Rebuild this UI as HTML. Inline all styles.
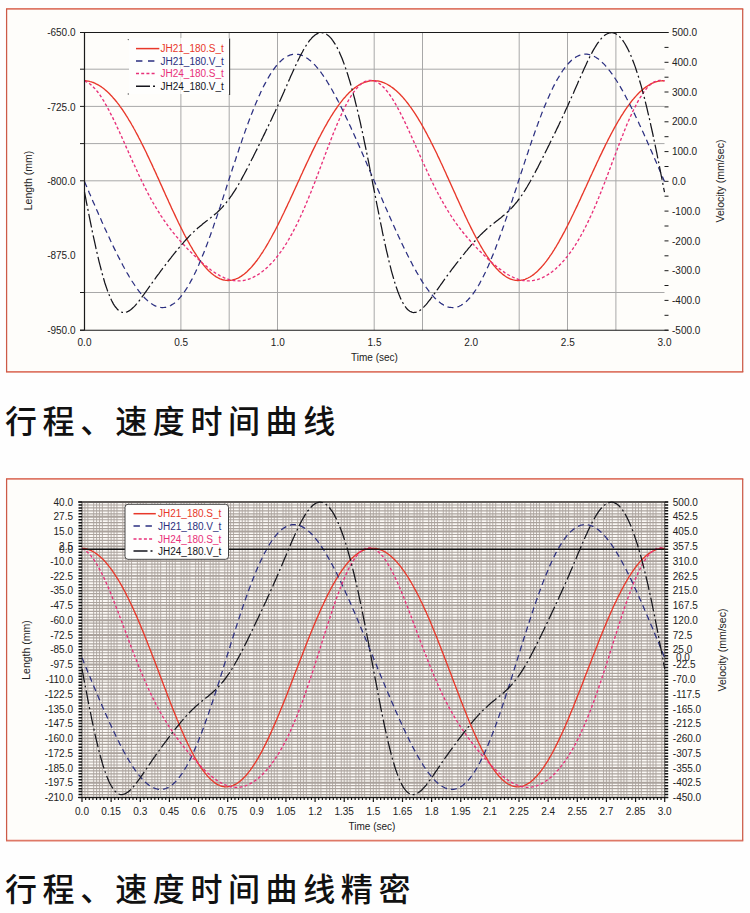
<!DOCTYPE html>
<html lang="zh-CN"><head><meta charset="utf-8"><title>行程、速度时间曲线</title>
<style>
html,body{margin:0;padding:0;background:#fefefe;}
body{width:750px;height:913px;position:relative;overflow:hidden;}
.cap{position:absolute;left:5px;margin:0;font-family:"Liberation Sans","Noto Sans CJK SC",sans-serif;font-weight:500;font-size:32px;line-height:40px;letter-spacing:5.6px;color:#111;white-space:nowrap;}
</style></head><body>
<svg width="750" height="913" viewBox="0 0 750 913" style="position:absolute;left:0;top:0">
<rect x="6.6" y="8.9" width="736.1" height="363.0" fill="#fefdfa"/>
<path d="M6.0 8.9H743.3000000000001M6.0 371.9H743.3000000000001" stroke="#de7867" stroke-width="1.7" fill="none"/>
<path d="M6.6 8.9V371.9M742.7 8.9V371.9" stroke="#cc5a47" stroke-width="1.25" fill="none"/>
<line x1="84.5" y1="69.2" x2="664.5" y2="69.2" stroke="#a8a8a8" stroke-width="1"/>
<line x1="84.5" y1="106.4" x2="664.5" y2="106.4" stroke="#a8a8a8" stroke-width="1"/>
<line x1="84.5" y1="143.6" x2="664.5" y2="143.6" stroke="#a8a8a8" stroke-width="1"/>
<line x1="84.5" y1="180.8" x2="664.5" y2="180.8" stroke="#a8a8a8" stroke-width="1"/>
<line x1="84.5" y1="292.5" x2="664.5" y2="292.5" stroke="#a8a8a8" stroke-width="1"/>
<line x1="180.9" y1="32.5" x2="180.9" y2="330.2" stroke="#a8a8a8" stroke-width="1"/>
<line x1="229.2" y1="32.5" x2="229.2" y2="330.2" stroke="#a8a8a8" stroke-width="1"/>
<line x1="277.5" y1="32.5" x2="277.5" y2="330.2" stroke="#a8a8a8" stroke-width="1"/>
<line x1="374.2" y1="32.5" x2="374.2" y2="330.2" stroke="#a8a8a8" stroke-width="1"/>
<line x1="422.5" y1="32.5" x2="422.5" y2="330.2" stroke="#a8a8a8" stroke-width="1"/>
<line x1="519.2" y1="32.5" x2="519.2" y2="330.2" stroke="#a8a8a8" stroke-width="1"/>
<line x1="567.5" y1="32.5" x2="567.5" y2="330.2" stroke="#a8a8a8" stroke-width="1"/>
<line x1="615.9" y1="32.5" x2="615.9" y2="330.2" stroke="#a8a8a8" stroke-width="1"/>
<path d="M84.5 80.7L85.5 80.7L86.4 80.8L87.4 81.0L88.4 81.1L89.3 81.3L90.3 81.6L91.3 81.8L92.2 82.2L93.2 82.5L94.2 82.9L95.2 83.3L96.1 83.8L97.1 84.3L98.1 84.8L99.0 85.4L100.0 86.0L101.0 86.6L101.9 87.3L102.9 88.0L103.9 88.8L104.8 89.5L105.8 90.4L106.8 91.2L107.7 92.1L108.7 93.0L109.7 94.0L110.6 95.0L111.6 96.0L112.6 97.1L113.5 98.2L114.5 99.3L115.5 100.5L116.5 101.7L117.4 102.9L118.4 104.1L119.4 105.4L120.3 106.8L121.3 108.1L122.3 109.5L123.2 110.9L124.2 112.4L125.2 113.9L126.1 115.4L127.1 116.9L128.1 118.5L129.0 120.1L130.0 121.7L131.0 123.3L131.9 125.0L132.9 126.7L133.9 128.5L134.9 130.2L135.8 132.0L136.8 133.8L137.8 135.6L138.7 137.5L139.7 139.4L140.7 141.2L141.6 143.2L142.6 145.1L143.6 147.1L144.5 149.0L145.5 151.0L146.5 153.0L147.4 155.1L148.4 157.1L149.4 159.2L150.3 161.2L151.3 163.3L152.3 165.4L153.2 167.5L154.2 169.6L155.2 171.7L156.2 173.9L157.1 176.0L158.1 178.1L159.1 180.3L160.0 182.4L161.0 184.6L162.0 186.7L162.9 188.9L163.9 191.1L164.9 193.2L165.8 195.4L166.8 197.5L167.8 199.6L168.7 201.8L169.7 203.9L170.7 206.0L171.6 208.1L172.6 210.2L173.6 212.3L174.6 214.4L175.5 216.4L176.5 218.5L177.5 220.5L178.4 222.5L179.4 224.5L180.4 226.5L181.3 228.4L182.3 230.3L183.3 232.2L184.2 234.1L185.2 236.0L186.2 237.8L187.1 239.6L188.1 241.4L189.1 243.1L190.0 244.8L191.0 246.5L192.0 248.2L192.9 249.8L193.9 251.4L194.9 252.9L195.9 254.4L196.8 255.9L197.8 257.3L198.8 258.7L199.7 260.1L200.7 261.4L201.7 262.7L202.6 263.9L203.6 265.1L204.6 266.3L205.5 267.4L206.5 268.5L207.5 269.5L208.4 270.5L209.4 271.4L210.4 272.3L211.3 273.2L212.3 274.0L213.3 274.8L214.2 275.5L215.2 276.1L216.2 276.8L217.2 277.3L218.1 277.9L219.1 278.3L220.1 278.8L221.0 279.1L222.0 279.5L223.0 279.8L223.9 280.0L224.9 280.2L225.9 280.3L226.8 280.4L227.8 280.5L228.8 280.5L229.7 280.4L230.7 280.3L231.7 280.2L232.6 280.0L233.6 279.7L234.6 279.4L235.6 279.1L236.5 278.7L237.5 278.3L238.5 277.8L239.4 277.3L240.4 276.7L241.4 276.1L242.3 275.4L243.3 274.7L244.3 274.0L245.2 273.2L246.2 272.4L247.2 271.5L248.1 270.6L249.1 269.6L250.1 268.6L251.0 267.6L252.0 266.5L253.0 265.3L253.9 264.2L254.9 263.0L255.9 261.7L256.9 260.5L257.8 259.1L258.8 257.8L259.8 256.4L260.7 255.0L261.7 253.5L262.7 252.1L263.6 250.5L264.6 249.0L265.6 247.4L266.5 245.8L267.5 244.1L268.5 242.5L269.4 240.8L270.4 239.0L271.4 237.3L272.3 235.5L273.3 233.7L274.3 231.9L275.3 230.0L276.2 228.2L277.2 226.3L278.2 224.4L279.1 222.4L280.1 220.5L281.1 218.5L282.0 216.5L283.0 214.5L284.0 212.5L284.9 210.5L285.9 208.4L286.9 206.4L287.8 204.3L288.8 202.3L289.8 200.2L290.7 198.1L291.7 196.0L292.7 193.9L293.6 191.8L294.6 189.7L295.6 187.5L296.6 185.4L297.5 183.3L298.5 181.2L299.5 179.1L300.4 177.0L301.4 174.8L302.4 172.7L303.3 170.6L304.3 168.5L305.3 166.4L306.2 164.4L307.2 162.3L308.2 160.2L309.1 158.2L310.1 156.1L311.1 154.1L312.0 152.1L313.0 150.1L314.0 148.1L315.0 146.1L315.9 144.2L316.9 142.2L317.9 140.3L318.8 138.4L319.8 136.6L320.8 134.7L321.7 132.9L322.7 131.1L323.7 129.3L324.6 127.5L325.6 125.8L326.6 124.1L327.5 122.4L328.5 120.7L329.5 119.1L330.4 117.5L331.4 115.9L332.4 114.4L333.3 112.8L334.3 111.4L335.3 109.9L336.3 108.5L337.2 107.1L338.2 105.7L339.2 104.4L340.1 103.1L341.1 101.9L342.1 100.6L343.0 99.4L344.0 98.3L345.0 97.2L345.9 96.1L346.9 95.0L347.9 94.0L348.8 93.0L349.8 92.1L350.8 91.2L351.7 90.3L352.7 89.5L353.7 88.7L354.7 87.9L355.6 87.2L356.6 86.5L357.6 85.9L358.5 85.3L359.5 84.7L360.5 84.2L361.4 83.7L362.4 83.2L363.4 82.8L364.3 82.4L365.3 82.1L366.3 81.8L367.2 81.5L368.2 81.3L369.2 81.1L370.1 80.9L371.1 80.8L372.1 80.7L373.0 80.7L374.0 80.7L375.0 80.7L376.0 80.8L376.9 80.9L377.9 81.0L378.9 81.2L379.8 81.4L380.8 81.7L381.8 82.0L382.7 82.3L383.7 82.7L384.7 83.1L385.6 83.5L386.6 84.0L387.6 84.5L388.5 85.1L389.5 85.7L390.5 86.3L391.4 87.0L392.4 87.6L393.4 88.4L394.3 89.1L395.3 89.9L396.3 90.8L397.3 91.7L398.2 92.6L399.2 93.5L400.2 94.5L401.1 95.5L402.1 96.5L403.1 97.6L404.0 98.7L405.0 99.9L406.0 101.1L406.9 102.3L407.9 103.5L408.9 104.8L409.8 106.1L410.8 107.4L411.8 108.8L412.7 110.2L413.7 111.6L414.7 113.1L415.7 114.6L416.6 116.1L417.6 117.7L418.6 119.3L419.5 120.9L420.5 122.5L421.5 124.2L422.4 125.9L423.4 127.6L424.4 129.3L425.3 131.1L426.3 132.9L427.3 134.7L428.2 136.6L429.2 138.4L430.2 140.3L431.1 142.2L432.1 144.1L433.1 146.1L434.0 148.0L435.0 150.0L436.0 152.0L437.0 154.0L437.9 156.1L438.9 158.1L439.9 160.2L440.8 162.3L441.8 164.3L442.8 166.4L443.7 168.6L444.7 170.7L445.7 172.8L446.6 174.9L447.6 177.1L448.6 179.2L449.5 181.4L450.5 183.5L451.5 185.7L452.4 187.8L453.4 190.0L454.4 192.1L455.4 194.3L456.3 196.4L457.3 198.6L458.3 200.7L459.2 202.8L460.2 205.0L461.2 207.1L462.1 209.2L463.1 211.3L464.1 213.3L465.0 215.4L466.0 217.5L467.0 219.5L467.9 221.5L468.9 223.5L469.9 225.5L470.8 227.4L471.8 229.4L472.8 231.3L473.7 233.2L474.7 235.0L475.7 236.9L476.7 238.7L477.6 240.5L478.6 242.2L479.6 244.0L480.5 245.7L481.5 247.3L482.5 249.0L483.4 250.6L484.4 252.1L485.4 253.7L486.3 255.2L487.3 256.6L488.3 258.0L489.2 259.4L490.2 260.8L491.2 262.1L492.1 263.3L493.1 264.5L494.1 265.7L495.1 266.9L496.0 268.0L497.0 269.0L498.0 270.0L498.9 271.0L499.9 271.9L500.9 272.8L501.8 273.6L502.8 274.4L503.8 275.1L504.7 275.8L505.7 276.5L506.7 277.1L507.6 277.6L508.6 278.1L509.6 278.6L510.5 279.0L511.5 279.3L512.5 279.6L513.4 279.9L514.4 280.1L515.4 280.3L516.4 280.4L517.3 280.5L518.3 280.5L519.3 280.4L520.2 280.4L521.2 280.2L522.2 280.1L523.1 279.9L524.1 279.6L525.1 279.3L526.0 278.9L527.0 278.5L528.0 278.0L528.9 277.5L529.9 277.0L530.9 276.4L531.8 275.8L532.8 275.1L533.8 274.4L534.8 273.6L535.7 272.8L536.7 271.9L537.7 271.0L538.6 270.1L539.6 269.1L540.6 268.1L541.5 267.0L542.5 265.9L543.5 264.8L544.4 263.6L545.4 262.4L546.4 261.1L547.3 259.8L548.3 258.5L549.3 257.1L550.2 255.7L551.2 254.3L552.2 252.8L553.1 251.3L554.1 249.8L555.1 248.2L556.1 246.6L557.0 245.0L558.0 243.3L559.0 241.6L559.9 239.9L560.9 238.2L561.9 236.4L562.8 234.6L563.8 232.8L564.8 231.0L565.7 229.1L566.7 227.2L567.7 225.3L568.6 223.4L569.6 221.5L570.6 219.5L571.5 217.5L572.5 215.5L573.5 213.5L574.4 211.5L575.4 209.5L576.4 207.4L577.4 205.4L578.3 203.3L579.3 201.2L580.3 199.1L581.2 197.0L582.2 194.9L583.2 192.8L584.1 190.7L585.1 188.6L586.1 186.5L587.0 184.4L588.0 182.2L589.0 180.1L589.9 178.0L590.9 175.9L591.9 173.8L592.8 171.7L593.8 169.6L594.8 167.5L595.8 165.4L596.7 163.3L597.7 161.2L598.7 159.2L599.6 157.1L600.6 155.1L601.6 153.1L602.5 151.1L603.5 149.1L604.5 147.1L605.4 145.1L606.4 143.2L607.4 141.3L608.3 139.4L609.3 137.5L610.3 135.6L611.2 133.8L612.2 132.0L613.2 130.2L614.1 128.4L615.1 126.6L616.1 124.9L617.1 123.2L618.0 121.5L619.0 119.9L620.0 118.3L620.9 116.7L621.9 115.1L622.9 113.6L623.8 112.1L624.8 110.6L625.8 109.2L626.7 107.8L627.7 106.4L628.7 105.1L629.6 103.8L630.6 102.5L631.6 101.2L632.5 100.0L633.5 98.9L634.5 97.7L635.5 96.6L636.4 95.6L637.4 94.5L638.4 93.5L639.3 92.6L640.3 91.6L641.3 90.8L642.2 89.9L643.2 89.1L644.2 88.3L645.1 87.6L646.1 86.9L647.1 86.2L648.0 85.6L649.0 85.0L650.0 84.4L650.9 83.9L651.9 83.4L652.9 83.0L653.8 82.6L654.8 82.2L655.8 81.9L656.8 81.6L657.7 81.4L658.7 81.2L659.7 81.0L660.6 80.9L661.6 80.8L662.6 80.7L663.5 80.7L664.5 80.7" fill="none" stroke="#e8382a" stroke-width="1.35"/>
<path d="M84.5 181.6L85.5 183.9L86.4 186.1L87.4 188.4L88.4 190.6L89.3 192.9L90.3 195.1L91.3 197.4L92.2 199.6L93.2 201.9L94.2 204.1L95.2 206.3L96.1 208.5L97.1 210.8L98.1 213.0L99.0 215.2L100.0 217.4L101.0 219.5L101.9 221.7L102.9 223.9L103.9 226.0L104.8 228.2L105.8 230.3L106.8 232.4L107.7 234.5L108.7 236.6L109.7 238.7L110.6 240.8L111.6 242.8L112.6 244.9L113.5 246.9L114.5 248.9L115.5 250.9L116.5 252.8L117.4 254.8L118.4 256.7L119.4 258.6L120.3 260.5L121.3 262.4L122.3 264.2L123.2 266.0L124.2 267.8L125.2 269.5L126.1 271.3L127.1 273.0L128.1 274.6L129.0 276.3L130.0 277.9L131.0 279.5L131.9 281.0L132.9 282.5L133.9 284.0L134.9 285.5L135.8 286.9L136.8 288.2L137.8 289.6L138.7 290.9L139.7 292.1L140.7 293.3L141.6 294.5L142.6 295.6L143.6 296.7L144.5 297.7L145.5 298.7L146.5 299.6L147.4 300.5L148.4 301.4L149.4 302.2L150.3 302.9L151.3 303.6L152.3 304.2L153.2 304.8L154.2 305.4L155.2 305.8L156.2 306.3L157.1 306.6L158.1 306.9L159.1 307.2L160.0 307.4L161.0 307.5L162.0 307.6L162.9 307.6L163.9 307.5L164.9 307.4L165.8 307.3L166.8 307.0L167.8 306.7L168.7 306.4L169.7 306.0L170.7 305.5L171.6 304.9L172.6 304.3L173.6 303.7L174.6 302.9L175.5 302.1L176.5 301.3L177.5 300.3L178.4 299.4L179.4 298.3L180.4 297.2L181.3 296.0L182.3 294.8L183.3 293.5L184.2 292.1L185.2 290.7L186.2 289.2L187.1 287.7L188.1 286.1L189.1 284.4L190.0 282.7L191.0 280.9L192.0 279.1L192.9 277.2L193.9 275.3L194.9 273.3L195.9 271.3L196.8 269.2L197.8 267.0L198.8 264.8L199.7 262.6L200.7 260.3L201.7 258.0L202.6 255.6L203.6 253.2L204.6 250.7L205.5 248.2L206.5 245.7L207.5 243.1L208.4 240.5L209.4 237.8L210.4 235.2L211.3 232.5L212.3 229.7L213.3 226.9L214.2 224.1L215.2 221.3L216.2 218.5L217.2 215.6L218.1 212.7L219.1 209.8L220.1 206.9L221.0 204.0L222.0 201.0L223.0 198.1L223.9 195.1L224.9 192.1L225.9 189.2L226.8 186.2L227.8 183.2L228.8 180.2L229.7 177.2L230.7 174.2L231.7 171.3L232.6 168.3L233.6 165.3L234.6 162.4L235.6 159.5L236.5 156.5L237.5 153.6L238.5 150.7L239.4 147.8L240.4 145.0L241.4 142.2L242.3 139.4L243.3 136.6L244.3 133.8L245.2 131.1L246.2 128.4L247.2 125.7L248.1 123.1L249.1 120.5L250.1 117.9L251.0 115.4L252.0 112.9L253.0 110.4L253.9 108.0L254.9 105.6L255.9 103.3L256.9 101.0L257.8 98.8L258.8 96.6L259.8 94.4L260.7 92.3L261.7 90.3L262.7 88.3L263.6 86.3L264.6 84.4L265.6 82.6L266.5 80.8L267.5 79.1L268.5 77.4L269.4 75.8L270.4 74.2L271.4 72.7L272.3 71.2L273.3 69.8L274.3 68.5L275.3 67.2L276.2 66.0L277.2 64.8L278.2 63.7L279.1 62.7L280.1 61.7L281.1 60.8L282.0 59.9L283.0 59.1L284.0 58.4L284.9 57.7L285.9 57.1L286.9 56.5L287.8 56.0L288.8 55.6L289.8 55.2L290.7 54.9L291.7 54.6L292.7 54.4L293.6 54.3L294.6 54.2L295.6 54.2L296.6 54.2L297.5 54.3L298.5 54.4L299.5 54.6L300.4 54.9L301.4 55.2L302.4 55.6L303.3 56.0L304.3 56.5L305.3 57.0L306.2 57.6L307.2 58.3L308.2 58.9L309.1 59.7L310.1 60.5L311.1 61.3L312.0 62.2L313.0 63.1L314.0 64.1L315.0 65.1L315.9 66.2L316.9 67.3L317.9 68.5L318.8 69.7L319.8 70.9L320.8 72.2L321.7 73.5L322.7 74.9L323.7 76.3L324.6 77.7L325.6 79.2L326.6 80.7L327.5 82.3L328.5 83.9L329.5 85.5L330.4 87.1L331.4 88.8L332.4 90.5L333.3 92.2L334.3 94.0L335.3 95.8L336.3 97.6L337.2 99.4L338.2 101.3L339.2 103.1L340.1 105.1L341.1 107.0L342.1 108.9L343.0 110.9L344.0 112.9L345.0 114.9L345.9 116.9L346.9 119.0L347.9 121.0L348.8 123.1L349.8 125.2L350.8 127.3L351.7 129.4L352.7 131.6L353.7 133.7L354.7 135.9L355.6 138.0L356.6 140.2L357.6 142.4L358.5 144.6L359.5 146.8L360.5 149.0L361.4 151.2L362.4 153.5L363.4 155.7L364.3 157.9L365.3 160.2L366.3 162.4L367.2 164.7L368.2 166.9L369.2 169.2L370.1 171.4L371.1 173.7L372.1 175.9L373.0 178.2L374.0 180.5L375.0 182.7L376.0 185.0L376.9 187.2L377.9 189.5L378.9 191.8L379.8 194.0L380.8 196.3L381.8 198.5L382.7 200.7L383.7 203.0L384.7 205.2L385.6 207.4L386.6 209.6L387.6 211.9L388.5 214.1L389.5 216.3L390.5 218.4L391.4 220.6L392.4 222.8L393.4 225.0L394.3 227.1L395.3 229.3L396.3 231.4L397.3 233.5L398.2 235.6L399.2 237.7L400.2 239.8L401.1 241.8L402.1 243.9L403.1 245.9L404.0 247.9L405.0 249.9L406.0 251.9L406.9 253.8L407.9 255.8L408.9 257.7L409.8 259.6L410.8 261.4L411.8 263.3L412.7 265.1L413.7 266.9L414.7 268.7L415.7 270.4L416.6 272.1L417.6 273.8L418.6 275.5L419.5 277.1L420.5 278.7L421.5 280.3L422.4 281.8L423.4 283.3L424.4 284.7L425.3 286.2L426.3 287.6L427.3 288.9L428.2 290.2L429.2 291.5L430.2 292.7L431.1 293.9L432.1 295.0L433.1 296.1L434.0 297.2L435.0 298.2L436.0 299.2L437.0 300.1L437.9 301.0L438.9 301.8L439.9 302.5L440.8 303.3L441.8 303.9L442.8 304.5L443.7 305.1L444.7 305.6L445.7 306.0L446.6 306.4L447.6 306.8L448.6 307.1L449.5 307.3L450.5 307.4L451.5 307.5L452.4 307.6L453.4 307.6L454.4 307.5L455.4 307.4L456.3 307.2L457.3 306.9L458.3 306.6L459.2 306.2L460.2 305.7L461.2 305.2L462.1 304.6L463.1 304.0L464.1 303.3L465.0 302.5L466.0 301.7L467.0 300.8L467.9 299.9L468.9 298.8L469.9 297.8L470.8 296.6L471.8 295.4L472.8 294.1L473.7 292.8L474.7 291.4L475.7 290.0L476.7 288.5L477.6 286.9L478.6 285.3L479.6 283.6L480.5 281.8L481.5 280.0L482.5 278.2L483.4 276.3L484.4 274.3L485.4 272.3L486.3 270.2L487.3 268.1L488.3 265.9L489.2 263.7L490.2 261.5L491.2 259.1L492.1 256.8L493.1 254.4L494.1 252.0L495.1 249.5L496.0 247.0L497.0 244.4L498.0 241.8L498.9 239.2L499.9 236.5L500.9 233.8L501.8 231.1L502.8 228.3L503.8 225.5L504.7 222.7L505.7 219.9L506.7 217.1L507.6 214.2L508.6 211.3L509.6 208.4L510.5 205.5L511.5 202.5L512.5 199.6L513.4 196.6L514.4 193.6L515.4 190.7L516.4 187.7L517.3 184.7L518.3 181.7L519.3 178.7L520.2 175.7L521.2 172.8L522.2 169.8L523.1 166.8L524.1 163.9L525.1 160.9L526.0 158.0L527.0 155.1L528.0 152.2L528.9 149.3L529.9 146.4L530.9 143.6L531.8 140.8L532.8 138.0L533.8 135.2L534.8 132.4L535.7 129.7L536.7 127.0L537.7 124.4L538.6 121.8L539.6 119.2L540.6 116.6L541.5 114.1L542.5 111.6L543.5 109.2L544.4 106.8L545.4 104.5L546.4 102.2L547.3 99.9L548.3 97.7L549.3 95.5L550.2 93.4L551.2 91.3L552.2 89.3L553.1 87.3L554.1 85.4L555.1 83.5L556.1 81.7L557.0 79.9L558.0 78.2L559.0 76.6L559.9 75.0L560.9 73.4L561.9 71.9L562.8 70.5L563.8 69.1L564.8 67.8L565.7 66.6L566.7 65.4L567.7 64.3L568.6 63.2L569.6 62.2L570.6 61.2L571.5 60.3L572.5 59.5L573.5 58.7L574.4 58.0L575.4 57.4L576.4 56.8L577.4 56.2L578.3 55.8L579.3 55.4L580.3 55.0L581.2 54.7L582.2 54.5L583.2 54.3L584.1 54.2L585.1 54.2L586.1 54.2L587.0 54.2L588.0 54.3L589.0 54.5L589.9 54.8L590.9 55.0L591.9 55.4L592.8 55.8L593.8 56.2L594.8 56.8L595.8 57.3L596.7 57.9L597.7 58.6L598.7 59.3L599.6 60.1L600.6 60.9L601.6 61.8L602.5 62.7L603.5 63.6L604.5 64.6L605.4 65.7L606.4 66.8L607.4 67.9L608.3 69.1L609.3 70.3L610.3 71.6L611.2 72.9L612.2 74.2L613.2 75.6L614.1 77.0L615.1 78.5L616.1 80.0L617.1 81.5L618.0 83.1L619.0 84.7L620.0 86.3L620.9 87.9L621.9 89.6L622.9 91.3L623.8 93.1L624.8 94.9L625.8 96.7L626.7 98.5L627.7 100.3L628.7 102.2L629.6 104.1L630.6 106.0L631.6 108.0L632.5 109.9L633.5 111.9L634.5 113.9L635.5 115.9L636.4 118.0L637.4 120.0L638.4 122.1L639.3 124.2L640.3 126.3L641.3 128.4L642.2 130.5L643.2 132.6L644.2 134.8L645.1 137.0L646.1 139.1L647.1 141.3L648.0 143.5L649.0 145.7L650.0 147.9L650.9 150.1L651.9 152.3L652.9 154.6L653.8 156.8L654.8 159.0L655.8 161.3L656.8 163.5L657.7 165.8L658.7 168.0L659.7 170.3L660.6 172.6L661.6 174.8L662.6 177.1L663.5 179.3L664.5 181.6" fill="none" stroke="#2b2f80" stroke-width="1.25" stroke-dasharray="6 4"/>
<path d="M84.5 81.0L85.5 81.3L86.4 81.8L87.4 82.3L88.4 82.9L89.3 83.5L90.3 84.3L91.3 85.1L92.2 85.9L93.2 86.9L94.2 87.9L95.2 88.9L96.1 90.1L97.1 91.3L98.1 92.5L99.0 93.8L100.0 95.2L101.0 96.6L101.9 98.1L102.9 99.7L103.9 101.2L104.8 102.9L105.8 104.6L106.8 106.3L107.7 108.0L108.7 109.8L109.7 111.7L110.6 113.6L111.6 115.5L112.6 117.4L113.5 119.4L114.5 121.4L115.5 123.4L116.5 125.5L117.4 127.6L118.4 129.7L119.4 131.8L120.3 133.9L121.3 136.0L122.3 138.2L123.2 140.4L124.2 142.5L125.2 144.7L126.1 146.9L127.1 149.1L128.1 151.2L129.0 153.4L130.0 155.6L131.0 157.7L131.9 159.9L132.9 162.1L133.9 164.2L134.9 166.3L135.8 168.4L136.8 170.5L137.8 172.6L138.7 174.7L139.7 176.8L140.7 178.8L141.6 180.8L142.6 182.8L143.6 184.7L144.5 186.7L145.5 188.6L146.5 190.5L147.4 192.4L148.4 194.2L149.4 196.0L150.3 197.8L151.3 199.6L152.3 201.3L153.2 203.0L154.2 204.7L155.2 206.4L156.2 208.0L157.1 209.6L158.1 211.2L159.1 212.7L160.0 214.3L161.0 215.8L162.0 217.2L162.9 218.7L163.9 220.1L164.9 221.5L165.8 222.9L166.8 224.2L167.8 225.6L168.7 226.9L169.7 228.1L170.7 229.4L171.6 230.7L172.6 231.9L173.6 233.1L174.6 234.3L175.5 235.4L176.5 236.6L177.5 237.7L178.4 238.9L179.4 240.0L180.4 241.1L181.3 242.2L182.3 243.2L183.3 244.3L184.2 245.3L185.2 246.4L186.2 247.4L187.1 248.4L188.1 249.4L189.1 250.4L190.0 251.4L191.0 252.3L192.0 253.3L192.9 254.2L193.9 255.2L194.9 256.1L195.9 257.0L196.8 257.9L197.8 258.8L198.8 259.7L199.7 260.6L200.7 261.5L201.7 262.3L202.6 263.2L203.6 264.0L204.6 264.8L205.5 265.6L206.5 266.4L207.5 267.2L208.4 268.0L209.4 268.7L210.4 269.5L211.3 270.2L212.3 270.9L213.3 271.6L214.2 272.2L215.2 272.9L216.2 273.5L217.2 274.1L218.1 274.7L219.1 275.2L220.1 275.8L221.0 276.3L222.0 276.8L223.0 277.2L223.9 277.7L224.9 278.1L225.9 278.5L226.8 278.8L227.8 279.1L228.8 279.5L229.7 279.7L230.7 280.0L231.7 280.2L232.6 280.4L233.6 280.5L234.6 280.7L235.6 280.8L236.5 280.8L237.5 280.9L238.5 280.9L239.4 280.9L240.4 280.8L241.4 280.7L242.3 280.6L243.3 280.5L244.3 280.3L245.2 280.1L246.2 279.9L247.2 279.6L248.1 279.3L249.1 279.0L250.1 278.6L251.0 278.2L252.0 277.8L253.0 277.4L253.9 276.9L254.9 276.4L255.9 275.9L256.9 275.3L257.8 274.7L258.8 274.1L259.8 273.4L260.7 272.8L261.7 272.0L262.7 271.3L263.6 270.5L264.6 269.7L265.6 268.9L266.5 268.0L267.5 267.2L268.5 266.2L269.4 265.3L270.4 264.3L271.4 263.3L272.3 262.2L273.3 261.2L274.3 260.1L275.3 258.9L276.2 257.7L277.2 256.5L278.2 255.3L279.1 254.0L280.1 252.7L281.1 251.4L282.0 250.0L283.0 248.6L284.0 247.1L284.9 245.6L285.9 244.1L286.9 242.5L287.8 240.9L288.8 239.3L289.8 237.6L290.7 235.9L291.7 234.2L292.7 232.4L293.6 230.6L294.6 228.7L295.6 226.8L296.6 224.9L297.5 222.9L298.5 220.9L299.5 218.8L300.4 216.7L301.4 214.6L302.4 212.5L303.3 210.3L304.3 208.1L305.3 205.8L306.2 203.5L307.2 201.2L308.2 198.9L309.1 196.5L310.1 194.1L311.1 191.7L312.0 189.2L313.0 186.8L314.0 184.3L315.0 181.8L315.9 179.3L316.9 176.7L317.9 174.2L318.8 171.6L319.8 169.0L320.8 166.5L321.7 163.9L322.7 161.3L323.7 158.7L324.6 156.1L325.6 153.6L326.6 151.0L327.5 148.4L328.5 145.9L329.5 143.4L330.4 140.9L331.4 138.4L332.4 135.9L333.3 133.5L334.3 131.0L335.3 128.7L336.3 126.3L337.2 124.0L338.2 121.7L339.2 119.5L340.1 117.3L341.1 115.1L342.1 113.0L343.0 111.0L344.0 109.0L345.0 107.0L345.9 105.1L346.9 103.3L347.9 101.5L348.8 99.8L349.8 98.1L350.8 96.5L351.7 95.0L352.7 93.6L353.7 92.2L354.7 90.9L355.6 89.7L356.6 88.5L357.6 87.4L358.5 86.4L359.5 85.4L360.5 84.6L361.4 83.8L362.4 83.1L363.4 82.5L364.3 81.9L365.3 81.5L366.3 81.1L367.2 80.8L368.2 80.5L369.2 80.4L370.1 80.3L371.1 80.3L372.1 80.4L373.0 80.6L374.0 80.8L375.0 81.2L376.0 81.5L376.9 82.0L377.9 82.6L378.9 83.2L379.8 83.9L380.8 84.6L381.8 85.5L382.7 86.4L383.7 87.4L384.7 88.4L385.6 89.5L386.6 90.7L387.6 91.9L388.5 93.2L389.5 94.5L390.5 95.9L391.4 97.4L392.4 98.9L393.4 100.4L394.3 102.0L395.3 103.7L396.3 105.4L397.3 107.2L398.2 108.9L399.2 110.8L400.2 112.6L401.1 114.5L402.1 116.5L403.1 118.4L404.0 120.4L405.0 122.4L406.0 124.5L406.9 126.5L407.9 128.6L408.9 130.7L409.8 132.8L410.8 135.0L411.8 137.1L412.7 139.3L413.7 141.4L414.7 143.6L415.7 145.8L416.6 148.0L417.6 150.1L418.6 152.3L419.5 154.5L420.5 156.7L421.5 158.8L422.4 161.0L423.4 163.1L424.4 165.3L425.3 167.4L426.3 169.5L427.3 171.6L428.2 173.7L429.2 175.7L430.2 177.8L431.1 179.8L432.1 181.8L433.1 183.8L434.0 185.7L435.0 187.7L436.0 189.6L437.0 191.4L437.9 193.3L438.9 195.1L439.9 196.9L440.8 198.7L441.8 200.5L442.8 202.2L443.7 203.9L444.7 205.6L445.7 207.2L446.6 208.8L447.6 210.4L448.6 212.0L449.5 213.5L450.5 215.0L451.5 216.5L452.4 218.0L453.4 219.4L454.4 220.8L455.4 222.2L456.3 223.6L457.3 224.9L458.3 226.2L459.2 227.5L460.2 228.8L461.2 230.0L462.1 231.3L463.1 232.5L464.1 233.7L465.0 234.9L466.0 236.0L467.0 237.2L467.9 238.3L468.9 239.4L469.9 240.5L470.8 241.6L471.8 242.7L472.8 243.8L473.7 244.8L474.7 245.8L475.7 246.9L476.7 247.9L477.6 248.9L478.6 249.9L479.6 250.9L480.5 251.8L481.5 252.8L482.5 253.8L483.4 254.7L484.4 255.6L485.4 256.6L486.3 257.5L487.3 258.4L488.3 259.3L489.2 260.2L490.2 261.1L491.2 261.9L492.1 262.8L493.1 263.6L494.1 264.4L495.1 265.2L496.0 266.0L497.0 266.8L498.0 267.6L498.9 268.4L499.9 269.1L500.9 269.8L501.8 270.5L502.8 271.2L503.8 271.9L504.7 272.6L505.7 273.2L506.7 273.8L507.6 274.4L508.6 275.0L509.6 275.5L510.5 276.0L511.5 276.5L512.5 277.0L513.4 277.4L514.4 277.9L515.4 278.3L516.4 278.6L517.3 279.0L518.3 279.3L519.3 279.6L520.2 279.9L521.2 280.1L522.2 280.3L523.1 280.5L524.1 280.6L525.1 280.7L526.0 280.8L527.0 280.9L528.0 280.9L528.9 280.9L529.9 280.8L530.9 280.8L531.8 280.7L532.8 280.6L533.8 280.4L534.8 280.2L535.7 280.0L536.7 279.7L537.7 279.5L538.6 279.1L539.6 278.8L540.6 278.4L541.5 278.0L542.5 277.6L543.5 277.1L544.4 276.7L545.4 276.1L546.4 275.6L547.3 275.0L548.3 274.4L549.3 273.8L550.2 273.1L551.2 272.4L552.2 271.7L553.1 270.9L554.1 270.1L555.1 269.3L556.1 268.5L557.0 267.6L558.0 266.7L559.0 265.8L559.9 264.8L560.9 263.8L561.9 262.8L562.8 261.7L563.8 260.6L564.8 259.5L565.7 258.3L566.7 257.1L567.7 255.9L568.6 254.7L569.6 253.4L570.6 252.0L571.5 250.7L572.5 249.3L573.5 247.8L574.4 246.4L575.4 244.9L576.4 243.3L577.4 241.7L578.3 240.1L579.3 238.5L580.3 236.8L581.2 235.0L582.2 233.3L583.2 231.5L584.1 229.6L585.1 227.8L586.1 225.8L587.0 223.9L588.0 221.9L589.0 219.9L589.9 217.8L590.9 215.7L591.9 213.6L592.8 211.4L593.8 209.2L594.8 206.9L595.8 204.7L596.7 202.4L597.7 200.1L598.7 197.7L599.6 195.3L600.6 192.9L601.6 190.5L602.5 188.0L603.5 185.5L604.5 183.0L605.4 180.5L606.4 178.0L607.4 175.5L608.3 172.9L609.3 170.3L610.3 167.8L611.2 165.2L612.2 162.6L613.2 160.0L614.1 157.4L615.1 154.9L616.1 152.3L617.1 149.7L618.0 147.2L619.0 144.6L620.0 142.1L620.9 139.6L621.9 137.1L622.9 134.7L623.8 132.2L624.8 129.8L625.8 127.5L626.7 125.1L627.7 122.8L628.7 120.6L629.6 118.4L630.6 116.2L631.6 114.1L632.5 112.0L633.5 109.9L634.5 108.0L635.5 106.1L636.4 104.2L637.4 102.4L638.4 100.6L639.3 99.0L640.3 97.3L641.3 95.8L642.2 94.3L643.2 92.9L644.2 91.5L645.1 90.3L646.1 89.1L647.1 87.9L648.0 86.9L649.0 85.9L650.0 85.0L650.9 84.2L651.9 83.4L652.9 82.8L653.8 82.2L654.8 81.7L655.8 81.3L656.8 80.9L657.7 80.6L658.7 80.5L659.7 80.3L660.6 80.3L661.6 80.4L662.6 80.5L663.5 80.7L664.5 81.0" fill="none" stroke="#e8307a" stroke-width="1.35" stroke-dasharray="3 2.2"/>
<path d="M84.5 192.2L85.5 197.1L86.4 202.1L87.4 207.0L88.4 211.9L89.3 216.7L90.3 221.5L91.3 226.3L92.2 231.0L93.2 235.6L94.2 240.1L95.2 244.6L96.1 248.9L97.1 253.2L98.1 257.3L99.0 261.3L100.0 265.2L101.0 269.0L101.9 272.6L102.9 276.1L103.9 279.5L104.8 282.7L105.8 285.7L106.8 288.6L107.7 291.3L108.7 293.8L109.7 296.2L110.6 298.4L111.6 300.5L112.6 302.4L113.5 304.1L114.5 305.6L115.5 307.0L116.5 308.2L117.4 309.3L118.4 310.2L119.4 310.9L120.3 311.5L121.3 312.0L122.3 312.3L123.2 312.4L124.2 312.5L125.2 312.4L126.1 312.1L127.1 311.8L128.1 311.4L129.0 310.9L130.0 310.2L131.0 309.5L131.9 308.7L132.9 307.8L133.9 306.9L134.9 305.9L135.8 304.8L136.8 303.7L137.8 302.5L138.7 301.3L139.7 300.1L140.7 298.8L141.6 297.5L142.6 296.2L143.6 294.9L144.5 293.5L145.5 292.2L146.5 290.8L147.4 289.5L148.4 288.1L149.4 286.7L150.3 285.3L151.3 284.0L152.3 282.6L153.2 281.3L154.2 279.9L155.2 278.6L156.2 277.2L157.1 275.9L158.1 274.6L159.1 273.3L160.0 272.0L161.0 270.7L162.0 269.4L162.9 268.1L163.9 266.8L164.9 265.6L165.8 264.3L166.8 263.1L167.8 261.8L168.7 260.6L169.7 259.3L170.7 258.1L171.6 256.9L172.6 255.7L173.6 254.4L174.6 253.2L175.5 252.0L176.5 250.8L177.5 249.7L178.4 248.5L179.4 247.3L180.4 246.2L181.3 245.0L182.3 243.9L183.3 242.8L184.2 241.7L185.2 240.6L186.2 239.5L187.1 238.5L188.1 237.5L189.1 236.4L190.0 235.4L191.0 234.5L192.0 233.5L192.9 232.6L193.9 231.6L194.9 230.7L195.9 229.9L196.8 229.0L197.8 228.1L198.8 227.3L199.7 226.5L200.7 225.7L201.7 224.9L202.6 224.1L203.6 223.3L204.6 222.6L205.5 221.8L206.5 221.1L207.5 220.3L208.4 219.6L209.4 218.8L210.4 218.1L211.3 217.3L212.3 216.5L213.3 215.7L214.2 214.9L215.2 214.1L216.2 213.2L217.2 212.4L218.1 211.5L219.1 210.5L220.1 209.6L221.0 208.6L222.0 207.6L223.0 206.5L223.9 205.4L224.9 204.3L225.9 203.1L226.8 201.9L227.8 200.7L228.8 199.4L229.7 198.1L230.7 196.7L231.7 195.3L232.6 193.9L233.6 192.4L234.6 190.9L235.6 189.3L236.5 187.8L237.5 186.1L238.5 184.5L239.4 182.8L240.4 181.1L241.4 179.4L242.3 177.6L243.3 175.8L244.3 174.0L245.2 172.2L246.2 170.4L247.2 168.5L248.1 166.6L249.1 164.8L250.1 162.9L251.0 160.9L252.0 159.0L253.0 157.1L253.9 155.2L254.9 153.2L255.9 151.3L256.9 149.4L257.8 147.4L258.8 145.4L259.8 143.5L260.7 141.5L261.7 139.5L262.7 137.6L263.6 135.6L264.6 133.6L265.6 131.6L266.5 129.6L267.5 127.6L268.5 125.6L269.4 123.6L270.4 121.5L271.4 119.5L272.3 117.4L273.3 115.3L274.3 113.3L275.3 111.2L276.2 109.1L277.2 106.9L278.2 104.8L279.1 102.7L280.1 100.5L281.1 98.3L282.0 96.2L283.0 94.0L284.0 91.8L284.9 89.6L285.9 87.4L286.9 85.2L287.8 82.9L288.8 80.7L289.8 78.5L290.7 76.3L291.7 74.2L292.7 72.0L293.6 69.9L294.6 67.7L295.6 65.6L296.6 63.6L297.5 61.5L298.5 59.5L299.5 57.6L300.4 55.6L301.4 53.8L302.4 52.0L303.3 50.2L304.3 48.5L305.3 46.9L306.2 45.4L307.2 43.9L308.2 42.5L309.1 41.2L310.1 39.9L311.1 38.8L312.0 37.7L313.0 36.8L314.0 35.9L315.0 35.1L315.9 34.5L316.9 33.9L317.9 33.4L318.8 33.1L319.8 32.9L320.8 32.7L321.7 32.7L322.7 32.8L323.7 33.0L324.6 33.3L325.6 33.7L326.6 34.3L327.5 35.0L328.5 35.7L329.5 36.6L330.4 37.6L331.4 38.7L332.4 40.0L333.3 41.3L334.3 42.8L335.3 44.4L336.3 46.0L337.2 47.8L338.2 49.8L339.2 51.8L340.1 53.9L341.1 56.2L342.1 58.5L343.0 61.0L344.0 63.6L345.0 66.3L345.9 69.1L346.9 72.0L347.9 75.0L348.8 78.1L349.8 81.3L350.8 84.7L351.7 88.1L352.7 91.6L353.7 95.3L354.7 99.0L355.6 102.8L356.6 106.8L357.6 110.8L358.5 114.9L359.5 119.1L360.5 123.4L361.4 127.8L362.4 132.2L363.4 136.7L364.3 141.3L365.3 146.0L366.3 150.7L367.2 155.4L368.2 160.2L369.2 165.1L370.1 170.0L371.1 174.9L372.1 179.8L373.0 184.8L374.0 189.7L375.0 194.7L376.0 199.6L376.9 204.5L377.9 209.4L378.9 214.3L379.8 219.1L380.8 223.9L381.8 228.6L382.7 233.3L383.7 237.9L384.7 242.3L385.6 246.7L386.6 251.1L387.6 255.2L388.5 259.3L389.5 263.3L390.5 267.1L391.4 270.8L392.4 274.4L393.4 277.8L394.3 281.1L395.3 284.2L396.3 287.2L397.3 290.0L398.2 292.6L399.2 295.1L400.2 297.4L401.1 299.5L402.1 301.5L403.1 303.3L404.0 304.9L405.0 306.3L406.0 307.6L406.9 308.8L407.9 309.7L408.9 310.6L409.8 311.2L410.8 311.7L411.8 312.1L412.7 312.4L413.7 312.5L414.7 312.4L415.7 312.3L416.6 312.0L417.6 311.6L418.6 311.1L419.5 310.6L420.5 309.9L421.5 309.1L422.4 308.3L423.4 307.4L424.4 306.4L425.3 305.4L426.3 304.3L427.3 303.1L428.2 301.9L429.2 300.7L430.2 299.5L431.1 298.2L432.1 296.9L433.1 295.6L434.0 294.2L435.0 292.9L436.0 291.5L437.0 290.1L437.9 288.8L438.9 287.4L439.9 286.0L440.8 284.7L441.8 283.3L442.8 281.9L443.7 280.6L444.7 279.2L445.7 277.9L446.6 276.6L447.6 275.2L448.6 273.9L449.5 272.6L450.5 271.3L451.5 270.0L452.4 268.7L453.4 267.5L454.4 266.2L455.4 264.9L456.3 263.7L457.3 262.4L458.3 261.2L459.2 259.9L460.2 258.7L461.2 257.5L462.1 256.3L463.1 255.0L464.1 253.8L465.0 252.6L466.0 251.4L467.0 250.3L467.9 249.1L468.9 247.9L469.9 246.8L470.8 245.6L471.8 244.5L472.8 243.4L473.7 242.2L474.7 241.2L475.7 240.1L476.7 239.0L477.6 238.0L478.6 236.9L479.6 235.9L480.5 234.9L481.5 234.0L482.5 233.0L483.4 232.1L484.4 231.2L485.4 230.3L486.3 229.4L487.3 228.6L488.3 227.7L489.2 226.9L490.2 226.1L491.2 225.3L492.1 224.5L493.1 223.7L494.1 223.0L495.1 222.2L496.0 221.5L497.0 220.7L498.0 220.0L498.9 219.2L499.9 218.4L500.9 217.7L501.8 216.9L502.8 216.1L503.8 215.3L504.7 214.5L505.7 213.7L506.7 212.8L507.6 211.9L508.6 211.0L509.6 210.1L510.5 209.1L511.5 208.1L512.5 207.0L513.4 206.0L514.4 204.9L515.4 203.7L516.4 202.5L517.3 201.3L518.3 200.0L519.3 198.7L520.2 197.4L521.2 196.0L522.2 194.6L523.1 193.1L524.1 191.6L525.1 190.1L526.0 188.6L527.0 187.0L528.0 185.3L528.9 183.7L529.9 182.0L530.9 180.2L531.8 178.5L532.8 176.7L533.8 174.9L534.8 173.1L535.7 171.3L536.7 169.4L537.7 167.6L538.6 165.7L539.6 163.8L540.6 161.9L541.5 160.0L542.5 158.1L543.5 156.1L544.4 154.2L545.4 152.3L546.4 150.3L547.3 148.4L548.3 146.4L549.3 144.5L550.2 142.5L551.2 140.5L552.2 138.6L553.1 136.6L554.1 134.6L555.1 132.6L556.1 130.6L557.0 128.6L558.0 126.6L559.0 124.6L559.9 122.5L560.9 120.5L561.9 118.5L562.8 116.4L563.8 114.3L564.8 112.2L565.7 110.1L566.7 108.0L567.7 105.9L568.6 103.7L569.6 101.6L570.6 99.4L571.5 97.2L572.5 95.1L573.5 92.9L574.4 90.7L575.4 88.5L576.4 86.3L577.4 84.1L578.3 81.8L579.3 79.6L580.3 77.4L581.2 75.3L582.2 73.1L583.2 70.9L584.1 68.8L585.1 66.7L586.1 64.6L587.0 62.5L588.0 60.5L589.0 58.5L589.9 56.6L590.9 54.7L591.9 52.9L592.8 51.1L593.8 49.4L594.8 47.7L595.8 46.1L596.7 44.6L597.7 43.2L598.7 41.8L599.6 40.5L600.6 39.3L601.6 38.2L602.5 37.2L603.5 36.3L604.5 35.5L605.4 34.8L606.4 34.2L607.4 33.7L608.3 33.3L609.3 33.0L610.3 32.8L611.2 32.7L612.2 32.7L613.2 32.9L614.1 33.1L615.1 33.5L616.1 34.0L617.1 34.6L618.0 35.3L619.0 36.2L620.0 37.1L620.9 38.2L621.9 39.3L622.9 40.6L623.8 42.0L624.8 43.5L625.8 45.2L626.7 46.9L627.7 48.8L628.7 50.8L629.6 52.8L630.6 55.0L631.6 57.3L632.5 59.7L633.5 62.3L634.5 64.9L635.5 67.6L636.4 70.5L637.4 73.5L638.4 76.5L639.3 79.7L640.3 83.0L641.3 86.4L642.2 89.9L643.2 93.4L644.2 97.1L645.1 100.9L646.1 104.8L647.1 108.8L648.0 112.8L649.0 117.0L650.0 121.2L650.9 125.6L651.9 130.0L652.9 134.5L653.8 139.0L654.8 143.6L655.8 148.3L656.8 153.0L657.7 157.8L658.7 162.6L659.7 167.5L660.6 172.4L661.6 177.3L662.6 182.3L663.5 187.2L664.5 192.2" fill="none" stroke="#15151c" stroke-width="1.25" stroke-dasharray="14 3 2 3"/>
<line x1="80.0" y1="32.5" x2="668.5" y2="32.5" stroke="#1a1a1a" stroke-width="1.1"/>
<line x1="84.5" y1="32.5" x2="84.5" y2="330.2" stroke="#1a1a1a" stroke-width="1.2"/>
<line x1="80.0" y1="330.2" x2="668.5" y2="330.2" stroke="#1a1a1a" stroke-width="1.1"/>
<line x1="80.0" y1="32.5" x2="84.5" y2="32.5" stroke="#1a1a1a" stroke-width="1"/>
<line x1="80.0" y1="69.2" x2="84.5" y2="69.2" stroke="#1a1a1a" stroke-width="1"/>
<line x1="80.0" y1="106.4" x2="84.5" y2="106.4" stroke="#1a1a1a" stroke-width="1"/>
<line x1="80.0" y1="143.6" x2="84.5" y2="143.6" stroke="#1a1a1a" stroke-width="1"/>
<line x1="80.0" y1="180.8" x2="84.5" y2="180.8" stroke="#1a1a1a" stroke-width="1"/>
<line x1="80.0" y1="292.5" x2="84.5" y2="292.5" stroke="#1a1a1a" stroke-width="1"/>
<line x1="80.0" y1="330.2" x2="84.5" y2="330.2" stroke="#1a1a1a" stroke-width="1"/>
<text x="75.5" y="36.1" text-anchor="end" font-size="10" font-family="Liberation Sans, sans-serif" fill="#222">-650.0</text>
<text x="75.5" y="110.5" text-anchor="end" font-size="10" font-family="Liberation Sans, sans-serif" fill="#222">-725.0</text>
<text x="75.5" y="184.9" text-anchor="end" font-size="10" font-family="Liberation Sans, sans-serif" fill="#222">-800.0</text>
<text x="75.5" y="259.4" text-anchor="end" font-size="10" font-family="Liberation Sans, sans-serif" fill="#222">-875.0</text>
<text x="75.5" y="333.8" text-anchor="end" font-size="10" font-family="Liberation Sans, sans-serif" fill="#222">-950.0</text>
<line x1="664.5" y1="32.5" x2="668.5" y2="32.5" stroke="#1a1a1a" stroke-width="1"/>
<line x1="664.5" y1="47.4" x2="668.5" y2="47.4" stroke="#1a1a1a" stroke-width="1"/>
<line x1="664.5" y1="62.3" x2="668.5" y2="62.3" stroke="#1a1a1a" stroke-width="1"/>
<line x1="664.5" y1="77.2" x2="668.5" y2="77.2" stroke="#1a1a1a" stroke-width="1"/>
<line x1="664.5" y1="92.0" x2="668.5" y2="92.0" stroke="#1a1a1a" stroke-width="1"/>
<line x1="664.5" y1="106.9" x2="668.5" y2="106.9" stroke="#1a1a1a" stroke-width="1"/>
<line x1="664.5" y1="121.8" x2="668.5" y2="121.8" stroke="#1a1a1a" stroke-width="1"/>
<line x1="664.5" y1="136.7" x2="668.5" y2="136.7" stroke="#1a1a1a" stroke-width="1"/>
<line x1="664.5" y1="151.6" x2="668.5" y2="151.6" stroke="#1a1a1a" stroke-width="1"/>
<line x1="664.5" y1="166.5" x2="668.5" y2="166.5" stroke="#1a1a1a" stroke-width="1"/>
<line x1="664.5" y1="181.3" x2="668.5" y2="181.3" stroke="#1a1a1a" stroke-width="1"/>
<line x1="664.5" y1="196.2" x2="668.5" y2="196.2" stroke="#1a1a1a" stroke-width="1"/>
<line x1="664.5" y1="211.1" x2="668.5" y2="211.1" stroke="#1a1a1a" stroke-width="1"/>
<line x1="664.5" y1="226.0" x2="668.5" y2="226.0" stroke="#1a1a1a" stroke-width="1"/>
<line x1="664.5" y1="240.9" x2="668.5" y2="240.9" stroke="#1a1a1a" stroke-width="1"/>
<line x1="664.5" y1="255.8" x2="668.5" y2="255.8" stroke="#1a1a1a" stroke-width="1"/>
<line x1="664.5" y1="270.7" x2="668.5" y2="270.7" stroke="#1a1a1a" stroke-width="1"/>
<line x1="664.5" y1="285.5" x2="668.5" y2="285.5" stroke="#1a1a1a" stroke-width="1"/>
<line x1="664.5" y1="300.4" x2="668.5" y2="300.4" stroke="#1a1a1a" stroke-width="1"/>
<line x1="664.5" y1="315.3" x2="668.5" y2="315.3" stroke="#1a1a1a" stroke-width="1"/>
<line x1="664.5" y1="330.2" x2="668.5" y2="330.2" stroke="#1a1a1a" stroke-width="1"/>
<text x="672" y="36.1" font-size="10" font-family="Liberation Sans, sans-serif" fill="#222">500.0</text>
<text x="672" y="65.9" font-size="10" font-family="Liberation Sans, sans-serif" fill="#222">400.0</text>
<text x="672" y="95.6" font-size="10" font-family="Liberation Sans, sans-serif" fill="#222">300.0</text>
<text x="672" y="125.4" font-size="10" font-family="Liberation Sans, sans-serif" fill="#222">200.0</text>
<text x="672" y="155.2" font-size="10" font-family="Liberation Sans, sans-serif" fill="#222">100.0</text>
<text x="672" y="184.9" font-size="10" font-family="Liberation Sans, sans-serif" fill="#222">0.0</text>
<text x="672" y="214.7" font-size="10" font-family="Liberation Sans, sans-serif" fill="#222">-100.0</text>
<text x="672" y="244.5" font-size="10" font-family="Liberation Sans, sans-serif" fill="#222">-200.0</text>
<text x="672" y="274.3" font-size="10" font-family="Liberation Sans, sans-serif" fill="#222">-300.0</text>
<text x="672" y="304.0" font-size="10" font-family="Liberation Sans, sans-serif" fill="#222">-400.0</text>
<text x="672" y="333.8" font-size="10" font-family="Liberation Sans, sans-serif" fill="#222">-500.0</text>
<text x="84.5" y="345.8" text-anchor="middle" font-size="10" font-family="Liberation Sans, sans-serif" fill="#222">0.0</text>
<text x="181.2" y="345.8" text-anchor="middle" font-size="10" font-family="Liberation Sans, sans-serif" fill="#222">0.5</text>
<text x="277.8" y="345.8" text-anchor="middle" font-size="10" font-family="Liberation Sans, sans-serif" fill="#222">1.0</text>
<text x="374.5" y="345.8" text-anchor="middle" font-size="10" font-family="Liberation Sans, sans-serif" fill="#222">1.5</text>
<text x="471.2" y="345.8" text-anchor="middle" font-size="10" font-family="Liberation Sans, sans-serif" fill="#222">2.0</text>
<text x="567.8" y="345.8" text-anchor="middle" font-size="10" font-family="Liberation Sans, sans-serif" fill="#222">2.5</text>
<text x="664.5" y="345.8" text-anchor="middle" font-size="10" font-family="Liberation Sans, sans-serif" fill="#222">3.0</text>
<text x="374.5" y="360.5" text-anchor="middle" font-size="10" font-family="Liberation Sans, sans-serif" fill="#222">Time (sec)</text>
<text transform="translate(32,180.5) rotate(-90)" text-anchor="middle" font-size="10.5" font-family="Liberation Sans, sans-serif" fill="#222">Length (mm)</text>
<text transform="translate(724.2,181) rotate(-90)" text-anchor="middle" font-size="10.5" font-family="Liberation Sans, sans-serif" fill="#222">Velocity (mm/sec)</text>
<rect x="129" y="38" width="100.5" height="56" fill="#fefefd"/>
<line x1="180.6" y1="38" x2="180.6" y2="94" stroke="#ecebe8" stroke-width="1"/>
<line x1="229.6" y1="38.5" x2="229.6" y2="95" stroke="#333" stroke-width="1.1"/>
<circle cx="128.3" cy="39.6" r="0.7" fill="#555"/><circle cx="128.3" cy="94" r="0.7" fill="#555"/>
<line x1="136" y1="48.6" x2="159.3" y2="48.6" stroke="#e8382a" stroke-width="1.5"/>
<text x="160.5" y="52.2" font-size="10" font-family="Liberation Sans, sans-serif" fill="#e8382a">JH21_180.S_t</text>
<line x1="136" y1="61.1" x2="156.5" y2="61.1" stroke="#2b2f80" stroke-width="1.5" stroke-dasharray="6.4 5.6"/>
<text x="160.5" y="64.7" font-size="10" font-family="Liberation Sans, sans-serif" fill="#2b2f80">JH21_180.V_t</text>
<line x1="136" y1="73.5" x2="156.5" y2="73.5" stroke="#e8307a" stroke-width="1.5" stroke-dasharray="3 2.2"/>
<text x="160.5" y="77.1" font-size="10" font-family="Liberation Sans, sans-serif" fill="#e8307a">JH24_180.S_t</text>
<line x1="136" y1="86.2" x2="156.5" y2="86.2" stroke="#15151c" stroke-width="1.5" stroke-dasharray="14 3 2 3"/>
<text x="160.5" y="89.8" font-size="10" font-family="Liberation Sans, sans-serif" fill="#15151c">JH24_180.V_t</text>
<rect x="6.6" y="478.9" width="736.1" height="361.70000000000005" fill="#fefdfa"/>
<path d="M6.0 478.9H743.3000000000001M6.0 840.6H743.3000000000001" stroke="#de7867" stroke-width="1.7" fill="none"/>
<path d="M6.6 478.9V840.6M742.7 478.9V840.6" stroke="#cc5a47" stroke-width="1.25" fill="none"/>
<rect x="82.0" y="502.0" width="582.7" height="295.5" fill="#fbf8f5"/>
<path d="M82.00 502.0V797.5M84.91 502.0V797.5M87.83 502.0V797.5M93.65 502.0V797.5M96.57 502.0V797.5M99.48 502.0V797.5M102.39 502.0V797.5M108.22 502.0V797.5M111.14 502.0V797.5M114.05 502.0V797.5M116.96 502.0V797.5M122.79 502.0V797.5M125.70 502.0V797.5M128.62 502.0V797.5M131.53 502.0V797.5M137.36 502.0V797.5M140.27 502.0V797.5M143.18 502.0V797.5M146.10 502.0V797.5M151.92 502.0V797.5M154.84 502.0V797.5M157.75 502.0V797.5M160.66 502.0V797.5M166.49 502.0V797.5M169.41 502.0V797.5M172.32 502.0V797.5M175.23 502.0V797.5M181.06 502.0V797.5M183.97 502.0V797.5M186.89 502.0V797.5M189.80 502.0V797.5M195.63 502.0V797.5M198.54 502.0V797.5M201.45 502.0V797.5M204.37 502.0V797.5M210.19 502.0V797.5M213.11 502.0V797.5M216.02 502.0V797.5M218.93 502.0V797.5M224.76 502.0V797.5M227.68 502.0V797.5M230.59 502.0V797.5M233.50 502.0V797.5M239.33 502.0V797.5M242.24 502.0V797.5M245.16 502.0V797.5M248.07 502.0V797.5M253.90 502.0V797.5M256.81 502.0V797.5M259.72 502.0V797.5M262.64 502.0V797.5M268.46 502.0V797.5M271.38 502.0V797.5M274.29 502.0V797.5M277.20 502.0V797.5M283.03 502.0V797.5M285.94 502.0V797.5M288.86 502.0V797.5M291.77 502.0V797.5M297.60 502.0V797.5M300.51 502.0V797.5M303.43 502.0V797.5M306.34 502.0V797.5M312.17 502.0V797.5M315.08 502.0V797.5M317.99 502.0V797.5M320.91 502.0V797.5M326.73 502.0V797.5M329.65 502.0V797.5M332.56 502.0V797.5M335.47 502.0V797.5M341.30 502.0V797.5M344.22 502.0V797.5M347.13 502.0V797.5M350.04 502.0V797.5M355.87 502.0V797.5M358.78 502.0V797.5M361.70 502.0V797.5M364.61 502.0V797.5M370.44 502.0V797.5M373.35 502.0V797.5M376.26 502.0V797.5M379.18 502.0V797.5M385.00 502.0V797.5M387.92 502.0V797.5M390.83 502.0V797.5M393.74 502.0V797.5M399.57 502.0V797.5M402.49 502.0V797.5M405.40 502.0V797.5M408.31 502.0V797.5M414.14 502.0V797.5M417.05 502.0V797.5M419.97 502.0V797.5M422.88 502.0V797.5M428.71 502.0V797.5M431.62 502.0V797.5M434.53 502.0V797.5M437.45 502.0V797.5M443.27 502.0V797.5M446.19 502.0V797.5M449.10 502.0V797.5M452.01 502.0V797.5M457.84 502.0V797.5M460.75 502.0V797.5M463.67 502.0V797.5M466.58 502.0V797.5M472.41 502.0V797.5M475.32 502.0V797.5M478.24 502.0V797.5M481.15 502.0V797.5M486.98 502.0V797.5M489.89 502.0V797.5M492.80 502.0V797.5M495.72 502.0V797.5M501.54 502.0V797.5M504.46 502.0V797.5M507.37 502.0V797.5M510.28 502.0V797.5M516.11 502.0V797.5M519.02 502.0V797.5M521.94 502.0V797.5M524.85 502.0V797.5M530.68 502.0V797.5M533.59 502.0V797.5M536.51 502.0V797.5M539.42 502.0V797.5M545.25 502.0V797.5M548.16 502.0V797.5M551.07 502.0V797.5M553.99 502.0V797.5M559.81 502.0V797.5M562.73 502.0V797.5M565.64 502.0V797.5M568.55 502.0V797.5M574.38 502.0V797.5M577.30 502.0V797.5M580.21 502.0V797.5M583.12 502.0V797.5M588.95 502.0V797.5M591.86 502.0V797.5M594.78 502.0V797.5M597.69 502.0V797.5M603.52 502.0V797.5M606.43 502.0V797.5M609.34 502.0V797.5M612.26 502.0V797.5M618.08 502.0V797.5M621.00 502.0V797.5M623.91 502.0V797.5M626.82 502.0V797.5M632.65 502.0V797.5M635.57 502.0V797.5M638.48 502.0V797.5M641.39 502.0V797.5M647.22 502.0V797.5M650.13 502.0V797.5M653.05 502.0V797.5M655.96 502.0V797.5M661.79 502.0V797.5M664.70 502.0V797.5" stroke="#b8b0ab" stroke-width="1.05" fill="none"/>
<path d="M82.0 504.95H664.7M82.0 507.91H664.7M82.0 510.87H664.7M82.0 513.82H664.7M82.0 519.73H664.7M82.0 522.68H664.7M82.0 525.64H664.7M82.0 528.60H664.7M82.0 534.50H664.7M82.0 537.46H664.7M82.0 540.41H664.7M82.0 543.37H664.7M82.0 549.28H664.7M82.0 552.24H664.7M82.0 555.19H664.7M82.0 558.14H664.7M82.0 564.05H664.7M82.0 567.01H664.7M82.0 569.97H664.7M82.0 572.92H664.7M82.0 578.83H664.7M82.0 581.78H664.7M82.0 584.74H664.7M82.0 587.69H664.7M82.0 593.61H664.7M82.0 596.56H664.7M82.0 599.51H664.7M82.0 602.47H664.7M82.0 608.38H664.7M82.0 611.34H664.7M82.0 614.29H664.7M82.0 617.25H664.7M82.0 623.15H664.7M82.0 626.11H664.7M82.0 629.07H664.7M82.0 632.02H664.7M82.0 637.93H664.7M82.0 640.88H664.7M82.0 643.84H664.7M82.0 646.79H664.7M82.0 652.71H664.7M82.0 655.66H664.7M82.0 658.62H664.7M82.0 661.57H664.7M82.0 667.48H664.7M82.0 670.43H664.7M82.0 673.39H664.7M82.0 676.35H664.7M82.0 682.25H664.7M82.0 685.21H664.7M82.0 688.16H664.7M82.0 691.12H664.7M82.0 697.03H664.7M82.0 699.99H664.7M82.0 702.94H664.7M82.0 705.89H664.7M82.0 711.81H664.7M82.0 714.76H664.7M82.0 717.72H664.7M82.0 720.67H664.7M82.0 726.58H664.7M82.0 729.53H664.7M82.0 732.49H664.7M82.0 735.44H664.7M82.0 741.36H664.7M82.0 744.31H664.7M82.0 747.26H664.7M82.0 750.22H664.7M82.0 756.13H664.7M82.0 759.09H664.7M82.0 762.04H664.7M82.0 765.00H664.7M82.0 770.90H664.7M82.0 773.86H664.7M82.0 776.82H664.7M82.0 779.77H664.7M82.0 785.68H664.7M82.0 788.63H664.7M82.0 791.59H664.7M82.0 794.55H664.7" stroke="#aba39d" stroke-width="1.15" fill="none"/>
<path d="M82.0 502.00H664.7M82.0 516.77H664.7M82.0 531.55H664.7M82.0 546.33H664.7M82.0 561.10H664.7M82.0 575.88H664.7M82.0 590.65H664.7M82.0 605.42H664.7M82.0 620.20H664.7M82.0 634.98H664.7M82.0 649.75H664.7M82.0 664.52H664.7M82.0 679.30H664.7M82.0 694.08H664.7M82.0 708.85H664.7M82.0 723.62H664.7M82.0 738.40H664.7M82.0 753.17H664.7M82.0 767.95H664.7M82.0 782.73H664.7M82.0 797.50H664.7" stroke="#aba39d" stroke-width="1.9" fill="none"/>
<path d="M82.0 548.3L83.0 548.3L83.9 548.4L84.9 548.6L85.9 548.8L86.9 549.0L87.8 549.3L88.8 549.6L89.8 550.0L90.8 550.4L91.7 550.9L92.7 551.4L93.7 552.0L94.6 552.5L95.6 553.2L96.6 553.9L97.6 554.6L98.5 555.4L99.5 556.2L100.5 557.0L101.5 557.9L102.4 558.8L103.4 559.8L104.4 560.8L105.3 561.9L106.3 563.0L107.3 564.2L108.3 565.3L109.2 566.6L110.2 567.8L111.2 569.1L112.2 570.5L113.1 571.9L114.1 573.3L115.1 574.8L116.0 576.3L117.0 577.8L118.0 579.4L119.0 581.0L119.9 582.7L120.9 584.4L121.9 586.1L122.9 587.9L123.8 589.7L124.8 591.5L125.8 593.4L126.7 595.3L127.7 597.2L128.7 599.2L129.7 601.2L130.6 603.2L131.6 605.3L132.6 607.4L133.6 609.5L134.5 611.7L135.5 613.9L136.5 616.1L137.4 618.3L138.4 620.6L139.4 622.9L140.4 625.2L141.3 627.5L142.3 629.9L143.3 632.3L144.3 634.7L145.2 637.1L146.2 639.5L147.2 642.0L148.1 644.4L149.1 646.9L150.1 649.4L151.1 651.9L152.0 654.4L153.0 657.0L154.0 659.5L155.0 662.1L155.9 664.6L156.9 667.2L157.9 669.8L158.9 672.3L159.8 674.9L160.8 677.5L161.8 680.0L162.7 682.6L163.7 685.2L164.7 687.7L165.7 690.3L166.6 692.8L167.6 695.4L168.6 697.9L169.6 700.4L170.5 702.9L171.5 705.4L172.5 707.9L173.4 710.3L174.4 712.8L175.4 715.2L176.4 717.6L177.3 720.0L178.3 722.3L179.3 724.6L180.3 726.9L181.2 729.2L182.2 731.5L183.2 733.7L184.1 735.9L185.1 738.0L186.1 740.1L187.1 742.2L188.0 744.2L189.0 746.3L190.0 748.2L191.0 750.2L191.9 752.0L192.9 753.9L193.9 755.7L194.8 757.5L195.8 759.2L196.8 760.8L197.8 762.5L198.7 764.1L199.7 765.6L200.7 767.1L201.7 768.5L202.6 769.9L203.6 771.2L204.6 772.5L205.5 773.7L206.5 774.9L207.5 776.0L208.5 777.1L209.4 778.1L210.4 779.1L211.4 780.0L212.4 780.8L213.3 781.6L214.3 782.4L215.3 783.1L216.2 783.7L217.2 784.3L218.2 784.8L219.2 785.2L220.1 785.6L221.1 786.0L222.1 786.3L223.1 786.5L224.0 786.6L225.0 786.8L226.0 786.8L226.9 786.8L227.9 786.7L228.9 786.6L229.9 786.4L230.8 786.2L231.8 785.9L232.8 785.6L233.8 785.2L234.7 784.7L235.7 784.2L236.7 783.6L237.6 783.0L238.6 782.3L239.6 781.6L240.6 780.8L241.5 780.0L242.5 779.1L243.5 778.1L244.5 777.1L245.4 776.1L246.4 775.0L247.4 773.8L248.3 772.6L249.3 771.4L250.3 770.1L251.3 768.7L252.2 767.4L253.2 765.9L254.2 764.4L255.2 762.9L256.1 761.4L257.1 759.7L258.1 758.1L259.0 756.4L260.0 754.7L261.0 752.9L262.0 751.1L262.9 749.2L263.9 747.3L264.9 745.4L265.9 743.4L266.8 741.4L267.8 739.4L268.8 737.4L269.7 735.3L270.7 733.1L271.7 731.0L272.7 728.8L273.6 726.6L274.6 724.4L275.6 722.1L276.6 719.8L277.5 717.5L278.5 715.2L279.5 712.8L280.4 710.5L281.4 708.1L282.4 705.7L283.4 703.2L284.3 700.8L285.3 698.4L286.3 695.9L287.3 693.4L288.2 690.9L289.2 688.4L290.2 685.9L291.1 683.4L292.1 680.9L293.1 678.4L294.1 675.8L295.0 673.3L296.0 670.8L297.0 668.3L298.0 665.7L298.9 663.2L299.9 660.7L300.9 658.2L301.9 655.7L302.8 653.2L303.8 650.7L304.8 648.2L305.7 645.7L306.7 643.2L307.7 640.8L308.7 638.3L309.6 635.9L310.6 633.5L311.6 631.1L312.6 628.8L313.5 626.4L314.5 624.1L315.5 621.8L316.4 619.5L317.4 617.2L318.4 615.0L319.4 612.8L320.3 610.6L321.3 608.4L322.3 606.3L323.3 604.2L324.2 602.1L325.2 600.1L326.2 598.0L327.1 596.1L328.1 594.1L329.1 592.2L330.1 590.3L331.0 588.5L332.0 586.7L333.0 584.9L334.0 583.2L334.9 581.5L335.9 579.8L336.9 578.2L337.8 576.6L338.8 575.1L339.8 573.5L340.8 572.1L341.7 570.7L342.7 569.3L343.7 567.9L344.7 566.6L345.6 565.4L346.6 564.2L347.6 563.0L348.5 561.9L349.5 560.8L350.5 559.8L351.5 558.8L352.4 557.8L353.4 556.9L354.4 556.1L355.4 555.2L356.3 554.5L357.3 553.7L358.3 553.1L359.2 552.4L360.2 551.8L361.2 551.3L362.2 550.8L363.1 550.3L364.1 549.9L365.1 549.6L366.1 549.2L367.0 549.0L368.0 548.7L369.0 548.5L369.9 548.4L370.9 548.3L371.9 548.3L372.9 548.3L373.8 548.3L374.8 548.4L375.8 548.5L376.8 548.7L377.7 548.9L378.7 549.2L379.7 549.5L380.6 549.8L381.6 550.2L382.6 550.7L383.6 551.1L384.5 551.7L385.5 552.2L386.5 552.9L387.5 553.5L388.4 554.2L389.4 555.0L390.4 555.8L391.3 556.6L392.3 557.5L393.3 558.4L394.3 559.3L395.2 560.3L396.2 561.4L397.2 562.4L398.2 563.6L399.1 564.7L400.1 565.9L401.1 567.2L402.0 568.5L403.0 569.8L404.0 571.2L405.0 572.6L405.9 574.0L406.9 575.5L407.9 577.0L408.9 578.6L409.8 580.2L410.8 581.8L411.8 583.5L412.7 585.2L413.7 587.0L414.7 588.8L415.7 590.6L416.6 592.4L417.6 594.3L418.6 596.3L419.6 598.2L420.5 600.2L421.5 602.2L422.5 604.3L423.4 606.3L424.4 608.5L425.4 610.6L426.4 612.8L427.3 615.0L428.3 617.2L429.3 619.4L430.3 621.7L431.2 624.0L432.2 626.3L433.2 628.7L434.1 631.1L435.1 633.4L436.1 635.9L437.1 638.3L438.0 640.7L439.0 643.2L440.0 645.7L441.0 648.2L441.9 650.7L442.9 653.2L443.9 655.7L444.8 658.2L445.8 660.8L446.8 663.4L447.8 665.9L448.7 668.5L449.7 671.0L450.7 673.6L451.7 676.2L452.6 678.8L453.6 681.3L454.6 683.9L455.6 686.5L456.5 689.0L457.5 691.6L458.5 694.1L459.4 696.6L460.4 699.2L461.4 701.7L462.4 704.2L463.3 706.7L464.3 709.1L465.3 711.6L466.3 714.0L467.2 716.4L468.2 718.8L469.2 721.2L470.1 723.5L471.1 725.8L472.1 728.1L473.1 730.3L474.0 732.6L475.0 734.8L476.0 736.9L477.0 739.1L477.9 741.2L478.9 743.2L479.9 745.3L480.8 747.2L481.8 749.2L482.8 751.1L483.8 753.0L484.7 754.8L485.7 756.6L486.7 758.3L487.7 760.0L488.6 761.7L489.6 763.3L490.6 764.8L491.5 766.3L492.5 767.8L493.5 769.2L494.5 770.6L495.4 771.9L496.4 773.1L497.4 774.3L498.4 775.5L499.3 776.6L500.3 777.6L501.3 778.6L502.2 779.5L503.2 780.4L504.2 781.2L505.2 782.0L506.1 782.7L507.1 783.4L508.1 784.0L509.1 784.5L510.0 785.0L511.0 785.4L512.0 785.8L512.9 786.1L513.9 786.4L514.9 786.6L515.9 786.7L516.8 786.8L517.8 786.8L518.8 786.8L519.8 786.7L520.7 786.5L521.7 786.3L522.7 786.1L523.6 785.8L524.6 785.4L525.6 784.9L526.6 784.5L527.5 783.9L528.5 783.3L529.5 782.7L530.5 782.0L531.4 781.2L532.4 780.4L533.4 779.5L534.3 778.6L535.3 777.6L536.3 776.6L537.3 775.5L538.2 774.4L539.2 773.2L540.2 772.0L541.2 770.7L542.1 769.4L543.1 768.1L544.1 766.6L545.0 765.2L546.0 763.7L547.0 762.1L548.0 760.6L548.9 758.9L549.9 757.2L550.9 755.5L551.9 753.8L552.8 752.0L553.8 750.1L554.8 748.3L555.7 746.4L556.7 744.4L557.7 742.4L558.7 740.4L559.6 738.4L560.6 736.3L561.6 734.2L562.6 732.1L563.5 729.9L564.5 727.7L565.5 725.5L566.4 723.2L567.4 721.0L568.4 718.7L569.4 716.3L570.3 714.0L571.3 711.6L572.3 709.3L573.3 706.9L574.2 704.5L575.2 702.0L576.2 699.6L577.1 697.1L578.1 694.7L579.1 692.2L580.1 689.7L581.0 687.2L582.0 684.7L583.0 682.2L584.0 679.6L584.9 677.1L585.9 674.6L586.9 672.1L587.8 669.5L588.8 667.0L589.8 664.5L590.8 661.9L591.7 659.4L592.7 656.9L593.7 654.4L594.7 651.9L595.6 649.4L596.6 646.9L597.6 644.5L598.6 642.0L599.5 639.6L600.5 637.1L601.5 634.7L602.4 632.3L603.4 629.9L604.4 627.6L605.4 625.2L606.3 622.9L607.3 620.6L608.3 618.3L609.3 616.1L610.2 613.9L611.2 611.7L612.2 609.5L613.1 607.3L614.1 605.2L615.1 603.1L616.1 601.1L617.0 599.0L618.0 597.0L619.0 595.1L620.0 593.2L620.9 591.3L621.9 589.4L622.9 587.6L623.8 585.8L624.8 584.0L625.8 582.3L626.8 580.6L627.7 579.0L628.7 577.4L629.7 575.8L630.7 574.3L631.6 572.8L632.6 571.4L633.6 570.0L634.5 568.6L635.5 567.3L636.5 566.0L637.5 564.8L638.4 563.6L639.4 562.4L640.4 561.3L641.4 560.3L642.3 559.3L643.3 558.3L644.3 557.4L645.2 556.5L646.2 555.6L647.2 554.9L648.2 554.1L649.1 553.4L650.1 552.7L651.1 552.1L652.1 551.6L653.0 551.0L654.0 550.6L655.0 550.1L655.9 549.7L656.9 549.4L657.9 549.1L658.9 548.8L659.8 548.6L660.8 548.5L661.8 548.4L662.8 548.3L663.7 548.3L664.7 548.3" fill="none" stroke="#e8382a" stroke-width="1.35"/>
<path d="M82.0 657.8L83.0 660.1L83.9 662.5L84.9 664.9L85.9 667.2L86.9 669.6L87.8 671.9L88.8 674.3L89.8 676.6L90.8 679.0L91.7 681.3L92.7 683.6L93.7 685.9L94.6 688.2L95.6 690.6L96.6 692.9L97.6 695.1L98.5 697.4L99.5 699.7L100.5 702.0L101.5 704.2L102.4 706.5L103.4 708.7L104.4 710.9L105.3 713.1L106.3 715.3L107.3 717.5L108.3 719.6L109.2 721.8L110.2 723.9L111.2 726.0L112.2 728.1L113.1 730.2L114.1 732.2L115.1 734.3L116.0 736.3L117.0 738.3L118.0 740.2L119.0 742.2L119.9 744.1L120.9 746.0L121.9 747.8L122.9 749.7L123.8 751.5L124.8 753.3L125.8 755.0L126.7 756.7L127.7 758.4L128.7 760.1L129.7 761.7L130.6 763.3L131.6 764.8L132.6 766.3L133.6 767.8L134.5 769.2L135.5 770.6L136.5 771.9L137.4 773.2L138.4 774.5L139.4 775.7L140.4 776.9L141.3 778.0L142.3 779.1L143.3 780.1L144.3 781.1L145.2 782.1L146.2 782.9L147.2 783.8L148.1 784.5L149.1 785.3L150.1 785.9L151.1 786.5L152.0 787.1L153.0 787.6L154.0 788.0L155.0 788.4L155.9 788.7L156.9 789.0L157.9 789.2L158.9 789.3L159.8 789.4L160.8 789.4L161.8 789.4L162.7 789.3L163.7 789.1L164.7 788.8L165.7 788.5L166.6 788.2L167.6 787.7L168.6 787.2L169.6 786.7L170.5 786.0L171.5 785.3L172.5 784.6L173.4 783.7L174.4 782.8L175.4 781.9L176.4 780.8L177.3 779.7L178.3 778.6L179.3 777.3L180.3 776.0L181.2 774.7L182.2 773.3L183.2 771.8L184.1 770.2L185.1 768.6L186.1 767.0L187.1 765.2L188.0 763.4L189.0 761.6L190.0 759.7L191.0 757.7L191.9 755.7L192.9 753.6L193.9 751.5L194.8 749.3L195.8 747.1L196.8 744.8L197.8 742.4L198.7 740.0L199.7 737.6L200.7 735.1L201.7 732.6L202.6 730.0L203.6 727.4L204.6 724.7L205.5 722.0L206.5 719.3L207.5 716.6L208.5 713.8L209.4 710.9L210.4 708.1L211.4 705.2L212.4 702.2L213.3 699.3L214.3 696.3L215.3 693.3L216.2 690.3L217.2 687.3L218.2 684.2L219.2 681.2L220.1 678.1L221.1 675.0L222.1 671.9L223.1 668.8L224.0 665.7L225.0 662.6L226.0 659.5L226.9 656.3L227.9 653.2L228.9 650.1L229.9 647.0L230.8 643.9L231.8 640.8L232.8 637.7L233.8 634.6L234.7 631.6L235.7 628.6L236.7 625.5L237.6 622.5L238.6 619.5L239.6 616.6L240.6 613.6L241.5 610.7L242.5 607.9L243.5 605.0L244.5 602.2L245.4 599.4L246.4 596.6L247.4 593.9L248.3 591.2L249.3 588.6L250.3 586.0L251.3 583.4L252.2 580.9L253.2 578.4L254.2 576.0L255.2 573.6L256.1 571.2L257.1 569.0L258.1 566.7L259.0 564.5L260.0 562.4L261.0 560.3L262.0 558.3L262.9 556.3L263.9 554.3L264.9 552.5L265.9 550.7L266.8 548.9L267.8 547.2L268.8 545.6L269.7 544.0L270.7 542.5L271.7 541.0L272.7 539.6L273.6 538.3L274.6 537.0L275.6 535.8L276.6 534.6L277.5 533.5L278.5 532.5L279.5 531.5L280.4 530.6L281.4 529.8L282.4 529.0L283.4 528.3L284.3 527.7L285.3 527.1L286.3 526.5L287.3 526.1L288.2 525.7L289.2 525.4L290.2 525.1L291.1 524.9L292.1 524.7L293.1 524.6L294.1 524.6L295.0 524.7L296.0 524.8L297.0 524.9L298.0 525.1L298.9 525.4L299.9 525.7L300.9 526.1L301.9 526.6L302.8 527.1L303.8 527.6L304.8 528.2L305.7 528.9L306.7 529.6L307.7 530.4L308.7 531.2L309.6 532.1L310.6 533.0L311.6 534.0L312.6 535.0L313.5 536.1L314.5 537.2L315.5 538.4L316.4 539.6L317.4 540.9L318.4 542.2L319.4 543.5L320.3 544.9L321.3 546.3L322.3 547.8L323.3 549.3L324.2 550.8L325.2 552.4L326.2 554.0L327.1 555.7L328.1 557.3L329.1 559.1L330.1 560.8L331.0 562.6L332.0 564.4L333.0 566.2L334.0 568.1L334.9 570.0L335.9 571.9L336.9 573.8L337.8 575.8L338.8 577.8L339.8 579.8L340.8 581.9L341.7 583.9L342.7 586.0L343.7 588.1L344.7 590.2L345.6 592.4L346.6 594.5L347.6 596.7L348.5 598.9L349.5 601.1L350.5 603.3L351.5 605.5L352.4 607.8L353.4 610.0L354.4 612.3L355.4 614.5L356.3 616.8L357.3 619.1L358.3 621.4L359.2 623.7L360.2 626.1L361.2 628.4L362.2 630.7L363.1 633.0L364.1 635.4L365.1 637.7L366.1 640.1L367.0 642.4L368.0 644.8L369.0 647.2L369.9 649.5L370.9 651.9L371.9 654.2L372.9 656.6L373.8 659.0L374.8 661.3L375.8 663.7L376.8 666.0L377.7 668.4L378.7 670.7L379.7 673.1L380.6 675.4L381.6 677.8L382.6 680.1L383.6 682.4L384.5 684.8L385.5 687.1L386.5 689.4L387.5 691.7L388.4 694.0L389.4 696.3L390.4 698.6L391.3 700.8L392.3 703.1L393.3 705.3L394.3 707.6L395.2 709.8L396.2 712.0L397.2 714.2L398.2 716.4L399.1 718.6L400.1 720.7L401.1 722.8L402.0 725.0L403.0 727.1L404.0 729.1L405.0 731.2L405.9 733.2L406.9 735.3L407.9 737.3L408.9 739.2L409.8 741.2L410.8 743.1L411.8 745.0L412.7 746.9L413.7 748.8L414.7 750.6L415.7 752.4L416.6 754.1L417.6 755.9L418.6 757.6L419.6 759.2L420.5 760.9L421.5 762.5L422.5 764.0L423.4 765.6L424.4 767.0L425.4 768.5L426.4 769.9L427.3 771.3L428.3 772.6L429.3 773.9L430.3 775.1L431.2 776.3L432.2 777.5L433.2 778.6L434.1 779.6L435.1 780.6L436.1 781.6L437.1 782.5L438.0 783.4L439.0 784.2L440.0 784.9L441.0 785.6L441.9 786.2L442.9 786.8L443.9 787.3L444.8 787.8L445.8 788.2L446.8 788.6L447.8 788.9L448.7 789.1L449.7 789.3L450.7 789.4L451.7 789.4L452.6 789.4L453.6 789.3L454.6 789.2L455.6 789.0L456.5 788.7L457.5 788.4L458.5 788.0L459.4 787.5L460.4 786.9L461.4 786.3L462.4 785.7L463.3 784.9L464.3 784.1L465.3 783.3L466.3 782.3L467.2 781.3L468.2 780.3L469.2 779.2L470.1 778.0L471.1 776.7L472.1 775.4L473.1 774.0L474.0 772.5L475.0 771.0L476.0 769.4L477.0 767.8L477.9 766.1L478.9 764.3L479.9 762.5L480.8 760.6L481.8 758.7L482.8 756.7L483.8 754.7L484.7 752.6L485.7 750.4L486.7 748.2L487.7 745.9L488.6 743.6L489.6 741.2L490.6 738.8L491.5 736.4L492.5 733.8L493.5 731.3L494.5 728.7L495.4 726.1L496.4 723.4L497.4 720.7L498.4 717.9L499.3 715.2L500.3 712.3L501.3 709.5L502.2 706.6L503.2 703.7L504.2 700.8L505.2 697.8L506.1 694.8L507.1 691.8L508.1 688.8L509.1 685.8L510.0 682.7L511.0 679.6L512.0 676.6L512.9 673.5L513.9 670.4L514.9 667.2L515.9 664.1L516.8 661.0L517.8 657.9L518.8 654.8L519.8 651.7L520.7 648.6L521.7 645.4L522.7 642.3L523.6 639.3L524.6 636.2L525.6 633.1L526.6 630.1L527.5 627.0L528.5 624.0L529.5 621.0L530.5 618.1L531.4 615.1L532.4 612.2L533.4 609.3L534.3 606.4L535.3 603.6L536.3 600.8L537.3 598.0L538.2 595.3L539.2 592.6L540.2 589.9L541.2 587.3L542.1 584.7L543.1 582.1L544.1 579.6L545.0 577.2L546.0 574.8L547.0 572.4L548.0 570.1L548.9 567.8L549.9 565.6L550.9 563.4L551.9 561.3L552.8 559.3L553.8 557.3L554.8 555.3L555.7 553.4L556.7 551.6L557.7 549.8L558.7 548.0L559.6 546.4L560.6 544.8L561.6 543.2L562.6 541.7L563.5 540.3L564.5 538.9L565.5 537.6L566.4 536.4L567.4 535.2L568.4 534.1L569.4 533.0L570.3 532.0L571.3 531.1L572.3 530.2L573.3 529.4L574.2 528.7L575.2 528.0L576.2 527.4L577.1 526.8L578.1 526.3L579.1 525.9L580.1 525.5L581.0 525.2L582.0 525.0L583.0 524.8L584.0 524.7L584.9 524.6L585.9 524.6L586.9 524.7L587.8 524.8L588.8 525.0L589.8 525.3L590.8 525.6L591.7 525.9L592.7 526.3L593.7 526.8L594.7 527.3L595.6 527.9L596.6 528.6L597.6 529.3L598.6 530.0L599.5 530.8L600.5 531.7L601.5 532.6L602.4 533.5L603.4 534.5L604.4 535.6L605.4 536.7L606.3 537.8L607.3 539.0L608.3 540.2L609.3 541.5L610.2 542.8L611.2 544.2L612.2 545.6L613.1 547.0L614.1 548.5L615.1 550.0L616.1 551.6L617.0 553.2L618.0 554.8L619.0 556.5L620.0 558.2L620.9 559.9L621.9 561.7L622.9 563.5L623.8 565.3L624.8 567.2L625.8 569.0L626.8 570.9L627.7 572.9L628.7 574.8L629.7 576.8L630.7 578.8L631.6 580.8L632.6 582.9L633.6 585.0L634.5 587.1L635.5 589.2L636.5 591.3L637.5 593.4L638.4 595.6L639.4 597.8L640.4 600.0L641.4 602.2L642.3 604.4L643.3 606.6L644.3 608.9L645.2 611.1L646.2 613.4L647.2 615.7L648.2 618.0L649.1 620.3L650.1 622.6L651.1 624.9L652.1 627.2L653.0 629.5L654.0 631.9L655.0 634.2L655.9 636.6L656.9 638.9L657.9 641.3L658.9 643.6L659.8 646.0L660.8 648.3L661.8 650.7L662.8 653.1L663.7 655.4L664.7 657.8" fill="none" stroke="#2b2f80" stroke-width="1.25" stroke-dasharray="6 4"/>
<path d="M82.0 548.6L83.0 549.0L83.9 549.6L84.9 550.2L85.9 550.9L86.9 551.7L87.8 552.5L88.8 553.5L89.8 554.5L90.8 555.6L91.7 556.8L92.7 558.1L93.7 559.5L94.6 560.9L95.6 562.4L96.6 564.0L97.6 565.6L98.5 567.3L99.5 569.1L100.5 570.9L101.5 572.8L102.4 574.8L103.4 576.8L104.4 578.8L105.3 580.9L106.3 583.1L107.3 585.3L108.3 587.5L109.2 589.8L110.2 592.1L111.2 594.5L112.2 596.9L113.1 599.3L114.1 601.8L115.1 604.2L116.0 606.7L117.0 609.3L118.0 611.8L119.0 614.4L119.9 616.9L120.9 619.5L121.9 622.1L122.9 624.7L123.8 627.3L124.8 629.9L125.8 632.5L126.7 635.1L127.7 637.7L128.7 640.3L129.7 642.9L130.6 645.4L131.6 648.0L132.6 650.5L133.6 653.1L134.5 655.6L135.5 658.1L136.5 660.5L137.4 663.0L138.4 665.4L139.4 667.8L140.4 670.2L141.3 672.5L142.3 674.8L143.3 677.1L144.3 679.4L145.2 681.6L146.2 683.8L147.2 686.0L148.1 688.1L149.1 690.2L150.1 692.3L151.1 694.4L152.0 696.4L153.0 698.4L154.0 700.3L155.0 702.2L155.9 704.1L156.9 705.9L157.9 707.8L158.9 709.6L159.8 711.3L160.8 713.0L161.8 714.7L162.7 716.4L163.7 718.0L164.7 719.7L165.7 721.2L166.6 722.8L167.6 724.3L168.6 725.8L169.6 727.3L170.5 728.8L171.5 730.2L172.5 731.7L173.4 733.1L174.4 734.4L175.4 735.8L176.4 737.1L177.3 738.5L178.3 739.8L179.3 741.1L180.3 742.3L181.2 743.6L182.2 744.8L183.2 746.1L184.1 747.3L185.1 748.5L186.1 749.7L187.1 750.9L188.0 752.1L189.0 753.2L190.0 754.4L191.0 755.5L191.9 756.6L192.9 757.7L193.9 758.8L194.8 759.9L195.8 761.0L196.8 762.1L197.8 763.1L198.7 764.1L199.7 765.2L200.7 766.2L201.7 767.2L202.6 768.1L203.6 769.1L204.6 770.1L205.5 771.0L206.5 771.9L207.5 772.8L208.5 773.7L209.4 774.5L210.4 775.4L211.4 776.2L212.4 777.0L213.3 777.7L214.3 778.5L215.3 779.2L216.2 779.9L217.2 780.6L218.2 781.2L219.2 781.8L220.1 782.4L221.1 782.9L222.1 783.5L223.1 783.9L224.0 784.4L225.0 784.8L226.0 785.2L226.9 785.6L227.9 785.9L228.9 786.2L229.9 786.5L230.8 786.7L231.8 786.9L232.8 787.0L233.8 787.2L234.7 787.2L235.7 787.3L236.7 787.3L237.6 787.3L238.6 787.2L239.6 787.1L240.6 787.0L241.5 786.8L242.5 786.6L243.5 786.4L244.5 786.1L245.4 785.8L246.4 785.4L247.4 785.0L248.3 784.6L249.3 784.1L250.3 783.7L251.3 783.1L252.2 782.6L253.2 782.0L254.2 781.3L255.2 780.6L256.1 779.9L257.1 779.2L258.1 778.4L259.0 777.6L260.0 776.8L261.0 775.9L262.0 774.9L262.9 774.0L263.9 773.0L264.9 772.0L265.9 770.9L266.8 769.8L267.8 768.7L268.8 767.5L269.7 766.3L270.7 765.0L271.7 763.8L272.7 762.4L273.6 761.1L274.6 759.7L275.6 758.2L276.6 756.7L277.5 755.2L278.5 753.7L279.5 752.0L280.4 750.4L281.4 748.7L282.4 747.0L283.4 745.2L284.3 743.4L285.3 741.5L286.3 739.6L287.3 737.7L288.2 735.7L289.2 733.6L290.2 731.5L291.1 729.4L292.1 727.2L293.1 725.0L294.1 722.7L295.0 720.4L296.0 718.1L297.0 715.7L298.0 713.2L298.9 710.7L299.9 708.2L300.9 705.6L301.9 703.0L302.8 700.4L303.8 697.7L304.8 694.9L305.7 692.2L306.7 689.4L307.7 686.6L308.7 683.7L309.6 680.8L310.6 677.9L311.6 674.9L312.6 672.0L313.5 669.0L314.5 666.0L315.5 662.9L316.4 659.9L317.4 656.8L318.4 653.8L319.4 650.7L320.3 647.6L321.3 644.5L322.3 641.4L323.3 638.4L324.2 635.3L325.2 632.2L326.2 629.2L327.1 626.1L328.1 623.1L329.1 620.1L330.1 617.1L331.0 614.2L332.0 611.3L333.0 608.4L334.0 605.5L334.9 602.7L335.9 600.0L336.9 597.2L337.8 594.6L338.8 591.9L339.8 589.4L340.8 586.9L341.7 584.4L342.7 582.0L343.7 579.7L344.7 577.4L345.6 575.2L346.6 573.1L347.6 571.1L348.5 569.1L349.5 567.2L350.5 565.4L351.5 563.7L352.4 562.0L353.4 560.4L354.4 559.0L355.4 557.6L356.3 556.3L357.3 555.1L358.3 554.0L359.2 552.9L360.2 552.0L361.2 551.1L362.2 550.4L363.1 549.7L364.1 549.2L365.1 548.7L366.1 548.4L367.0 548.1L368.0 547.9L369.0 547.8L369.9 547.8L370.9 547.9L371.9 548.1L372.9 548.4L373.8 548.8L374.8 549.3L375.8 549.9L376.8 550.5L377.7 551.3L378.7 552.1L379.7 553.0L380.6 554.0L381.6 555.1L382.6 556.2L383.6 557.5L384.5 558.8L385.5 560.2L386.5 561.6L387.5 563.2L388.4 564.8L389.4 566.5L390.4 568.2L391.3 570.0L392.3 571.9L393.3 573.8L394.3 575.8L395.2 577.8L396.2 579.9L397.2 582.0L398.2 584.2L399.1 586.4L400.1 588.7L401.1 591.0L402.0 593.3L403.0 595.7L404.0 598.1L405.0 600.5L405.9 603.0L406.9 605.5L407.9 608.0L408.9 610.5L409.8 613.1L410.8 615.6L411.8 618.2L412.7 620.8L413.7 623.4L414.7 626.0L415.7 628.6L416.6 631.2L417.6 633.8L418.6 636.4L419.6 639.0L420.5 641.6L421.5 644.1L422.5 646.7L423.4 649.3L424.4 651.8L425.4 654.3L426.4 656.8L427.3 659.3L428.3 661.7L429.3 664.2L430.3 666.6L431.2 669.0L432.2 671.3L433.2 673.7L434.1 676.0L435.1 678.3L436.1 680.5L437.1 682.7L438.0 684.9L439.0 687.1L440.0 689.2L441.0 691.3L441.9 693.3L442.9 695.4L443.9 697.4L444.8 699.3L445.8 701.3L446.8 703.2L447.8 705.0L448.7 706.9L449.7 708.7L450.7 710.4L451.7 712.2L452.6 713.9L453.6 715.6L454.6 717.2L455.6 718.9L456.5 720.5L457.5 722.0L458.5 723.6L459.4 725.1L460.4 726.6L461.4 728.1L462.4 729.5L463.3 730.9L464.3 732.4L465.3 733.7L466.3 735.1L467.2 736.5L468.2 737.8L469.2 739.1L470.1 740.4L471.1 741.7L472.1 743.0L473.1 744.2L474.0 745.5L475.0 746.7L476.0 747.9L477.0 749.1L477.9 750.3L478.9 751.5L479.9 752.6L480.8 753.8L481.8 754.9L482.8 756.1L483.8 757.2L484.7 758.3L485.7 759.4L486.7 760.5L487.7 761.5L488.6 762.6L489.6 763.6L490.6 764.7L491.5 765.7L492.5 766.7L493.5 767.7L494.5 768.6L495.4 769.6L496.4 770.5L497.4 771.5L498.4 772.4L499.3 773.2L500.3 774.1L501.3 774.9L502.2 775.8L503.2 776.6L504.2 777.4L505.2 778.1L506.1 778.8L507.1 779.5L508.1 780.2L509.1 780.9L510.0 781.5L511.0 782.1L512.0 782.7L512.9 783.2L513.9 783.7L514.9 784.2L515.9 784.6L516.8 785.0L517.8 785.4L518.8 785.8L519.8 786.1L520.7 786.4L521.7 786.6L522.7 786.8L523.6 787.0L524.6 787.1L525.6 787.2L526.6 787.3L527.5 787.3L528.5 787.3L529.5 787.3L530.5 787.2L531.4 787.1L532.4 786.9L533.4 786.7L534.3 786.5L535.3 786.2L536.3 785.9L537.3 785.6L538.2 785.2L539.2 784.8L540.2 784.4L541.2 783.9L542.1 783.4L543.1 782.8L544.1 782.3L545.0 781.6L546.0 781.0L547.0 780.3L548.0 779.6L548.9 778.8L549.9 778.0L550.9 777.2L551.9 776.3L552.8 775.4L553.8 774.5L554.8 773.5L555.7 772.5L556.7 771.4L557.7 770.4L558.7 769.2L559.6 768.1L560.6 766.9L561.6 765.7L562.6 764.4L563.5 763.1L564.5 761.8L565.5 760.4L566.4 759.0L567.4 757.5L568.4 756.0L569.4 754.4L570.3 752.9L571.3 751.2L572.3 749.6L573.3 747.8L574.2 746.1L575.2 744.3L576.2 742.5L577.1 740.6L578.1 738.6L579.1 736.7L580.1 734.6L581.0 732.6L582.0 730.5L583.0 728.3L584.0 726.1L584.9 723.9L585.9 721.6L586.9 719.2L587.8 716.9L588.8 714.4L589.8 712.0L590.8 709.5L591.7 706.9L592.7 704.3L593.7 701.7L594.7 699.0L595.6 696.3L596.6 693.6L597.6 690.8L598.6 688.0L599.5 685.1L600.5 682.3L601.5 679.4L602.4 676.4L603.4 673.5L604.4 670.5L605.4 667.5L606.3 664.5L607.3 661.4L608.3 658.4L609.3 655.3L610.2 652.2L611.2 649.2L612.2 646.1L613.1 643.0L614.1 639.9L615.1 636.8L616.1 633.8L617.0 630.7L618.0 627.7L619.0 624.6L620.0 621.6L620.9 618.6L621.9 615.7L622.9 612.7L623.8 609.8L624.8 607.0L625.8 604.1L626.8 601.3L627.7 598.6L628.7 595.9L629.7 593.3L630.7 590.7L631.6 588.1L632.6 585.6L633.6 583.2L634.5 580.8L635.5 578.6L636.5 576.3L637.5 574.2L638.4 572.1L639.4 570.1L640.4 568.1L641.4 566.3L642.3 564.5L643.3 562.8L644.3 561.2L645.2 559.7L646.2 558.3L647.2 556.9L648.2 555.7L649.1 554.5L650.1 553.4L651.1 552.4L652.1 551.6L653.0 550.8L654.0 550.1L655.0 549.5L655.9 548.9L656.9 548.5L657.9 548.2L658.9 548.0L659.8 547.9L660.8 547.8L661.8 547.9L662.8 548.0L663.7 548.3L664.7 548.6" fill="none" stroke="#e8307a" stroke-width="1.35" stroke-dasharray="3 2.2"/>
<path d="M82.0 668.8L83.0 674.0L83.9 679.2L84.9 684.3L85.9 689.4L86.9 694.5L87.8 699.5L88.8 704.5L89.8 709.4L90.8 714.2L91.7 718.9L92.7 723.6L93.7 728.1L94.6 732.6L95.6 736.9L96.6 741.1L97.6 745.2L98.5 749.1L99.5 752.9L100.5 756.6L101.5 760.0L102.4 763.4L103.4 766.6L104.4 769.6L105.3 772.4L106.3 775.1L107.3 777.6L108.3 779.9L109.2 782.0L110.2 784.0L111.2 785.8L112.2 787.4L113.1 788.8L114.1 790.1L115.1 791.2L116.0 792.1L117.0 792.9L118.0 793.5L119.0 794.0L119.9 794.3L120.9 794.5L121.9 794.5L122.9 794.4L123.8 794.2L124.8 793.9L125.8 793.4L126.7 792.8L127.7 792.2L128.7 791.4L129.7 790.6L130.6 789.7L131.6 788.7L132.6 787.7L133.6 786.5L134.5 785.4L135.5 784.2L136.5 782.9L137.4 781.6L138.4 780.3L139.4 778.9L140.4 777.6L141.3 776.2L142.3 774.8L143.3 773.3L144.3 771.9L145.2 770.5L146.2 769.1L147.2 767.6L148.1 766.2L149.1 764.8L150.1 763.3L151.1 761.9L152.0 760.5L153.0 759.1L154.0 757.7L155.0 756.3L155.9 754.9L156.9 753.6L157.9 752.2L158.9 750.9L159.8 749.5L160.8 748.2L161.8 746.8L162.7 745.5L163.7 744.2L164.7 742.9L165.7 741.6L166.6 740.3L167.6 739.0L168.6 737.7L169.6 736.4L170.5 735.2L171.5 733.9L172.5 732.6L173.4 731.4L174.4 730.1L175.4 728.9L176.4 727.7L177.3 726.5L178.3 725.3L179.3 724.1L180.3 722.9L181.2 721.7L182.2 720.6L183.2 719.4L184.1 718.3L185.1 717.2L186.1 716.1L187.1 715.1L188.0 714.0L189.0 713.0L190.0 712.0L191.0 711.0L191.9 710.1L192.9 709.1L193.9 708.2L194.8 707.3L195.8 706.4L196.8 705.5L197.8 704.7L198.7 703.9L199.7 703.0L200.7 702.2L201.7 701.4L202.6 700.6L203.6 699.8L204.6 699.0L205.5 698.3L206.5 697.5L207.5 696.7L208.5 695.9L209.4 695.1L210.4 694.3L211.4 693.4L212.4 692.6L213.3 691.7L214.3 690.8L215.3 689.9L216.2 689.0L217.2 688.0L218.2 687.0L219.2 686.0L220.1 684.9L221.1 683.8L222.1 682.7L223.1 681.5L224.0 680.3L225.0 679.0L226.0 677.7L226.9 676.4L227.9 675.0L228.9 673.6L229.9 672.1L230.8 670.6L231.8 669.1L232.8 667.5L233.8 665.9L234.7 664.2L235.7 662.5L236.7 660.8L237.6 659.1L238.6 657.3L239.6 655.5L240.6 653.6L241.5 651.8L242.5 649.9L243.5 648.0L244.5 646.0L245.4 644.1L246.4 642.2L247.4 640.2L248.3 638.2L249.3 636.2L250.3 634.2L251.3 632.2L252.2 630.2L253.2 628.2L254.2 626.1L255.2 624.1L256.1 622.1L257.1 620.0L258.1 618.0L259.0 615.9L260.0 613.9L261.0 611.8L262.0 609.7L262.9 607.6L263.9 605.6L264.9 603.5L265.9 601.4L266.8 599.3L267.8 597.1L268.8 595.0L269.7 592.9L270.7 590.7L271.7 588.6L272.7 586.4L273.6 584.2L274.6 582.0L275.6 579.8L276.6 577.6L277.5 575.3L278.5 573.1L279.5 570.8L280.4 568.5L281.4 566.2L282.4 563.9L283.4 561.6L284.3 559.3L285.3 557.0L286.3 554.7L287.3 552.4L288.2 550.1L289.2 547.8L290.2 545.5L291.1 543.3L292.1 541.0L293.1 538.8L294.1 536.6L295.0 534.4L296.0 532.3L297.0 530.2L298.0 528.2L298.9 526.2L299.9 524.2L300.9 522.3L301.9 520.5L302.8 518.8L303.8 517.1L304.8 515.4L305.7 513.9L306.7 512.4L307.7 511.0L308.7 509.8L309.6 508.6L310.6 507.5L311.6 506.5L312.6 505.5L313.5 504.7L314.5 504.1L315.5 503.5L316.4 503.0L317.4 502.6L318.4 502.4L319.4 502.2L320.3 502.2L321.3 502.3L322.3 502.5L323.3 502.9L324.2 503.3L325.2 503.9L326.2 504.6L327.1 505.4L328.1 506.3L329.1 507.3L330.1 508.5L331.0 509.8L332.0 511.2L333.0 512.7L334.0 514.4L334.9 516.1L335.9 518.0L336.9 520.0L337.8 522.1L338.8 524.4L339.8 526.7L340.8 529.2L341.7 531.8L342.7 534.5L343.7 537.3L344.7 540.2L345.6 543.2L346.6 546.4L347.6 549.6L348.5 553.0L349.5 556.5L350.5 560.1L351.5 563.8L352.4 567.6L353.4 571.5L354.4 575.5L355.4 579.6L356.3 583.8L357.3 588.1L358.3 592.5L359.2 597.0L360.2 601.5L361.2 606.2L362.2 610.9L363.1 615.7L364.1 620.5L365.1 625.5L366.1 630.4L367.0 635.5L368.0 640.5L369.0 645.6L369.9 650.8L370.9 655.9L371.9 661.1L372.9 666.3L373.8 671.4L374.8 676.6L375.8 681.7L376.8 686.9L377.7 692.0L378.7 697.0L379.7 702.0L380.6 706.9L381.6 711.8L382.6 716.6L383.6 721.3L384.5 725.9L385.5 730.4L386.5 734.7L387.5 739.0L388.4 743.1L389.4 747.2L390.4 751.0L391.3 754.7L392.3 758.3L393.3 761.7L394.3 765.0L395.2 768.1L396.2 771.0L397.2 773.8L398.2 776.3L399.1 778.7L400.1 781.0L401.1 783.0L402.0 784.9L403.0 786.6L404.0 788.1L405.0 789.5L405.9 790.7L406.9 791.7L407.9 792.5L408.9 793.2L409.8 793.8L410.8 794.2L411.8 794.4L412.7 794.5L413.7 794.5L414.7 794.3L415.7 794.0L416.6 793.6L417.6 793.1L418.6 792.5L419.6 791.8L420.5 791.0L421.5 790.2L422.5 789.2L423.4 788.2L424.4 787.1L425.4 786.0L426.4 784.8L427.3 783.5L428.3 782.3L429.3 781.0L430.3 779.6L431.2 778.2L432.2 776.9L433.2 775.5L434.1 774.1L435.1 772.6L436.1 771.2L437.1 769.8L438.0 768.3L439.0 766.9L440.0 765.5L441.0 764.0L441.9 762.6L442.9 761.2L443.9 759.8L444.8 758.4L445.8 757.0L446.8 755.6L447.8 754.3L448.7 752.9L449.7 751.5L450.7 750.2L451.7 748.8L452.6 747.5L453.6 746.2L454.6 744.9L455.6 743.5L456.5 742.2L457.5 740.9L458.5 739.6L459.4 738.4L460.4 737.1L461.4 735.8L462.4 734.5L463.3 733.3L464.3 732.0L465.3 730.8L466.3 729.5L467.2 728.3L468.2 727.1L469.2 725.9L470.1 724.7L471.1 723.5L472.1 722.3L473.1 721.2L474.0 720.0L475.0 718.9L476.0 717.8L477.0 716.7L477.9 715.6L478.9 714.6L479.9 713.5L480.8 712.5L481.8 711.5L482.8 710.5L483.8 709.6L484.7 708.7L485.7 707.7L486.7 706.9L487.7 706.0L488.6 705.1L489.6 704.3L490.6 703.4L491.5 702.6L492.5 701.8L493.5 701.0L494.5 700.2L495.4 699.4L496.4 698.6L497.4 697.9L498.4 697.1L499.3 696.3L500.3 695.5L501.3 694.7L502.2 693.9L503.2 693.0L504.2 692.2L505.2 691.3L506.1 690.4L507.1 689.5L508.1 688.5L509.1 687.5L510.0 686.5L511.0 685.5L512.0 684.4L512.9 683.3L513.9 682.1L514.9 680.9L515.9 679.7L516.8 678.4L517.8 677.1L518.8 675.7L519.8 674.3L520.7 672.9L521.7 671.4L522.7 669.9L523.6 668.3L524.6 666.7L525.6 665.1L526.6 663.4L527.5 661.7L528.5 659.9L529.5 658.2L530.5 656.4L531.4 654.5L532.4 652.7L533.4 650.8L534.3 648.9L535.3 647.0L536.3 645.1L537.3 643.1L538.2 641.2L539.2 639.2L540.2 637.2L541.2 635.2L542.1 633.2L543.1 631.2L544.1 629.2L545.0 627.1L546.0 625.1L547.0 623.1L548.0 621.0L548.9 619.0L549.9 616.9L550.9 614.9L551.9 612.8L552.8 610.8L553.8 608.7L554.8 606.6L555.7 604.5L556.7 602.4L557.7 600.3L558.7 598.2L559.6 596.1L560.6 593.9L561.6 591.8L562.6 589.6L563.5 587.5L564.5 585.3L565.5 583.1L566.4 580.9L567.4 578.7L568.4 576.4L569.4 574.2L570.3 571.9L571.3 569.7L572.3 567.4L573.3 565.1L574.2 562.8L575.2 560.5L576.2 558.2L577.1 555.9L578.1 553.6L579.1 551.3L580.1 549.0L581.0 546.7L582.0 544.4L583.0 542.1L584.0 539.9L584.9 537.7L585.9 535.5L586.9 533.4L587.8 531.3L588.8 529.2L589.8 527.2L590.8 525.2L591.7 523.3L592.7 521.4L593.7 519.6L594.7 517.9L595.6 516.2L596.6 514.7L597.6 513.1L598.6 511.7L599.5 510.4L600.5 509.1L601.5 508.0L602.4 506.9L603.4 506.0L604.4 505.1L605.4 504.4L606.3 503.7L607.3 503.2L608.3 502.8L609.3 502.5L610.2 502.3L611.2 502.2L612.2 502.2L613.1 502.4L614.1 502.7L615.1 503.1L616.1 503.6L617.0 504.2L618.0 504.9L619.0 505.8L620.0 506.8L620.9 507.9L621.9 509.1L622.9 510.5L623.8 512.0L624.8 513.5L625.8 515.2L626.8 517.1L627.7 519.0L628.7 521.1L629.7 523.2L630.7 525.5L631.6 527.9L632.6 530.5L633.6 533.1L634.5 535.9L635.5 538.7L636.5 541.7L637.5 544.8L638.4 548.0L639.4 551.3L640.4 554.7L641.4 558.3L642.3 561.9L643.3 565.7L644.3 569.5L645.2 573.5L646.2 577.5L647.2 581.7L648.2 585.9L649.1 590.3L650.1 594.7L651.1 599.2L652.1 603.8L653.0 608.5L654.0 613.3L655.0 618.1L655.9 623.0L656.9 627.9L657.9 632.9L658.9 638.0L659.8 643.1L660.8 648.2L661.8 653.3L662.8 658.5L663.7 663.7L664.7 668.8" fill="none" stroke="#15151c" stroke-width="1.25" stroke-dasharray="14 3 2 3"/>
<line x1="82.0" y1="549.2" x2="664.7" y2="549.2" stroke="#111" stroke-width="1.4"/>
<line x1="78.0" y1="502.0" x2="668.2" y2="502.0" stroke="#1a1a1a" stroke-width="1.2"/>
<line x1="82.0" y1="502.0" x2="82.0" y2="797.5" stroke="#1a1a1a" stroke-width="0.5"/>
<line x1="78.0" y1="797.5" x2="668.2" y2="797.5" stroke="#1a1a1a" stroke-width="1.2"/>
<line x1="664.7" y1="502.0" x2="664.7" y2="797.5" stroke="#1a1a1a" stroke-width="0.5"/>
<path d="M78.5 502.00H82.0M664.7 502.00H668.2M78.5 504.95H82.0M664.7 504.95H668.2M78.5 507.91H82.0M664.7 507.91H668.2M78.5 510.87H82.0M664.7 510.87H668.2M78.5 513.82H82.0M664.7 513.82H668.2M78.5 516.77H82.0M664.7 516.77H668.2M78.5 519.73H82.0M664.7 519.73H668.2M78.5 522.68H82.0M664.7 522.68H668.2M78.5 525.64H82.0M664.7 525.64H668.2M78.5 528.60H82.0M664.7 528.60H668.2M78.5 531.55H82.0M664.7 531.55H668.2M78.5 534.50H82.0M664.7 534.50H668.2M78.5 537.46H82.0M664.7 537.46H668.2M78.5 540.41H82.0M664.7 540.41H668.2M78.5 543.37H82.0M664.7 543.37H668.2M78.5 546.33H82.0M664.7 546.33H668.2M78.5 549.28H82.0M664.7 549.28H668.2M78.5 552.24H82.0M664.7 552.24H668.2M78.5 555.19H82.0M664.7 555.19H668.2M78.5 558.14H82.0M664.7 558.14H668.2M78.5 561.10H82.0M664.7 561.10H668.2M78.5 564.05H82.0M664.7 564.05H668.2M78.5 567.01H82.0M664.7 567.01H668.2M78.5 569.97H82.0M664.7 569.97H668.2M78.5 572.92H82.0M664.7 572.92H668.2M78.5 575.88H82.0M664.7 575.88H668.2M78.5 578.83H82.0M664.7 578.83H668.2M78.5 581.78H82.0M664.7 581.78H668.2M78.5 584.74H82.0M664.7 584.74H668.2M78.5 587.69H82.0M664.7 587.69H668.2M78.5 590.65H82.0M664.7 590.65H668.2M78.5 593.61H82.0M664.7 593.61H668.2M78.5 596.56H82.0M664.7 596.56H668.2M78.5 599.51H82.0M664.7 599.51H668.2M78.5 602.47H82.0M664.7 602.47H668.2M78.5 605.42H82.0M664.7 605.42H668.2M78.5 608.38H82.0M664.7 608.38H668.2M78.5 611.34H82.0M664.7 611.34H668.2M78.5 614.29H82.0M664.7 614.29H668.2M78.5 617.25H82.0M664.7 617.25H668.2M78.5 620.20H82.0M664.7 620.20H668.2M78.5 623.15H82.0M664.7 623.15H668.2M78.5 626.11H82.0M664.7 626.11H668.2M78.5 629.07H82.0M664.7 629.07H668.2M78.5 632.02H82.0M664.7 632.02H668.2M78.5 634.98H82.0M664.7 634.98H668.2M78.5 637.93H82.0M664.7 637.93H668.2M78.5 640.88H82.0M664.7 640.88H668.2M78.5 643.84H82.0M664.7 643.84H668.2M78.5 646.79H82.0M664.7 646.79H668.2M78.5 649.75H82.0M664.7 649.75H668.2M78.5 652.71H82.0M664.7 652.71H668.2M78.5 655.66H82.0M664.7 655.66H668.2M78.5 658.62H82.0M664.7 658.62H668.2M78.5 661.57H82.0M664.7 661.57H668.2M78.5 664.52H82.0M664.7 664.52H668.2M78.5 667.48H82.0M664.7 667.48H668.2M78.5 670.43H82.0M664.7 670.43H668.2M78.5 673.39H82.0M664.7 673.39H668.2M78.5 676.35H82.0M664.7 676.35H668.2M78.5 679.30H82.0M664.7 679.30H668.2M78.5 682.25H82.0M664.7 682.25H668.2M78.5 685.21H82.0M664.7 685.21H668.2M78.5 688.16H82.0M664.7 688.16H668.2M78.5 691.12H82.0M664.7 691.12H668.2M78.5 694.08H82.0M664.7 694.08H668.2M78.5 697.03H82.0M664.7 697.03H668.2M78.5 699.99H82.0M664.7 699.99H668.2M78.5 702.94H82.0M664.7 702.94H668.2M78.5 705.89H82.0M664.7 705.89H668.2M78.5 708.85H82.0M664.7 708.85H668.2M78.5 711.81H82.0M664.7 711.81H668.2M78.5 714.76H82.0M664.7 714.76H668.2M78.5 717.72H82.0M664.7 717.72H668.2M78.5 720.67H82.0M664.7 720.67H668.2M78.5 723.62H82.0M664.7 723.62H668.2M78.5 726.58H82.0M664.7 726.58H668.2M78.5 729.53H82.0M664.7 729.53H668.2M78.5 732.49H82.0M664.7 732.49H668.2M78.5 735.44H82.0M664.7 735.44H668.2M78.5 738.40H82.0M664.7 738.40H668.2M78.5 741.36H82.0M664.7 741.36H668.2M78.5 744.31H82.0M664.7 744.31H668.2M78.5 747.26H82.0M664.7 747.26H668.2M78.5 750.22H82.0M664.7 750.22H668.2M78.5 753.17H82.0M664.7 753.17H668.2M78.5 756.13H82.0M664.7 756.13H668.2M78.5 759.09H82.0M664.7 759.09H668.2M78.5 762.04H82.0M664.7 762.04H668.2M78.5 765.00H82.0M664.7 765.00H668.2M78.5 767.95H82.0M664.7 767.95H668.2M78.5 770.90H82.0M664.7 770.90H668.2M78.5 773.86H82.0M664.7 773.86H668.2M78.5 776.82H82.0M664.7 776.82H668.2M78.5 779.77H82.0M664.7 779.77H668.2M78.5 782.73H82.0M664.7 782.73H668.2M78.5 785.68H82.0M664.7 785.68H668.2M78.5 788.63H82.0M664.7 788.63H668.2M78.5 791.59H82.0M664.7 791.59H668.2M78.5 794.55H82.0M664.7 794.55H668.2M78.5 797.50H82.0M664.7 797.50H668.2" stroke="#111" stroke-width="1.5" fill="none"/>
<path d="M82.00 797.5v4.5M85.64 797.5v2.5M89.28 797.5v2.5M92.93 797.5v2.5M96.57 797.5v2.5M100.21 797.5v2.5M103.85 797.5v2.5M107.49 797.5v2.5M111.14 797.5v4.5M114.78 797.5v2.5M118.42 797.5v2.5M122.06 797.5v2.5M125.70 797.5v2.5M129.34 797.5v2.5M132.99 797.5v2.5M136.63 797.5v2.5M140.27 797.5v4.5M143.91 797.5v2.5M147.55 797.5v2.5M151.20 797.5v2.5M154.84 797.5v2.5M158.48 797.5v2.5M162.12 797.5v2.5M165.76 797.5v2.5M169.41 797.5v4.5M173.05 797.5v2.5M176.69 797.5v2.5M180.33 797.5v2.5M183.97 797.5v2.5M187.61 797.5v2.5M191.26 797.5v2.5M194.90 797.5v2.5M198.54 797.5v4.5M202.18 797.5v2.5M205.82 797.5v2.5M209.47 797.5v2.5M213.11 797.5v2.5M216.75 797.5v2.5M220.39 797.5v2.5M224.03 797.5v2.5M227.68 797.5v4.5M231.32 797.5v2.5M234.96 797.5v2.5M238.60 797.5v2.5M242.24 797.5v2.5M245.88 797.5v2.5M249.53 797.5v2.5M253.17 797.5v2.5M256.81 797.5v4.5M260.45 797.5v2.5M264.09 797.5v2.5M267.74 797.5v2.5M271.38 797.5v2.5M275.02 797.5v2.5M278.66 797.5v2.5M282.30 797.5v2.5M285.95 797.5v4.5M289.59 797.5v2.5M293.23 797.5v2.5M296.87 797.5v2.5M300.51 797.5v2.5M304.15 797.5v2.5M307.80 797.5v2.5M311.44 797.5v2.5M315.08 797.5v4.5M318.72 797.5v2.5M322.36 797.5v2.5M326.01 797.5v2.5M329.65 797.5v2.5M333.29 797.5v2.5M336.93 797.5v2.5M340.57 797.5v2.5M344.22 797.5v4.5M347.86 797.5v2.5M351.50 797.5v2.5M355.14 797.5v2.5M358.78 797.5v2.5M362.42 797.5v2.5M366.07 797.5v2.5M369.71 797.5v2.5M373.35 797.5v4.5M376.99 797.5v2.5M380.63 797.5v2.5M384.28 797.5v2.5M387.92 797.5v2.5M391.56 797.5v2.5M395.20 797.5v2.5M398.84 797.5v2.5M402.49 797.5v4.5M406.13 797.5v2.5M409.77 797.5v2.5M413.41 797.5v2.5M417.05 797.5v2.5M420.69 797.5v2.5M424.34 797.5v2.5M427.98 797.5v2.5M431.62 797.5v4.5M435.26 797.5v2.5M438.90 797.5v2.5M442.55 797.5v2.5M446.19 797.5v2.5M449.83 797.5v2.5M453.47 797.5v2.5M457.11 797.5v2.5M460.75 797.5v4.5M464.40 797.5v2.5M468.04 797.5v2.5M471.68 797.5v2.5M475.32 797.5v2.5M478.96 797.5v2.5M482.61 797.5v2.5M486.25 797.5v2.5M489.89 797.5v4.5M493.53 797.5v2.5M497.17 797.5v2.5M500.82 797.5v2.5M504.46 797.5v2.5M508.10 797.5v2.5M511.74 797.5v2.5M515.38 797.5v2.5M519.02 797.5v4.5M522.67 797.5v2.5M526.31 797.5v2.5M529.95 797.5v2.5M533.59 797.5v2.5M537.23 797.5v2.5M540.88 797.5v2.5M544.52 797.5v2.5M548.16 797.5v4.5M551.80 797.5v2.5M555.44 797.5v2.5M559.09 797.5v2.5M562.73 797.5v2.5M566.37 797.5v2.5M570.01 797.5v2.5M573.65 797.5v2.5M577.30 797.5v4.5M580.94 797.5v2.5M584.58 797.5v2.5M588.22 797.5v2.5M591.86 797.5v2.5M595.50 797.5v2.5M599.15 797.5v2.5M602.79 797.5v2.5M606.43 797.5v4.5M610.07 797.5v2.5M613.71 797.5v2.5M617.36 797.5v2.5M621.00 797.5v2.5M624.64 797.5v2.5M628.28 797.5v2.5M631.92 797.5v2.5M635.57 797.5v4.5M639.21 797.5v2.5M642.85 797.5v2.5M646.49 797.5v2.5M650.13 797.5v2.5M653.77 797.5v2.5M657.42 797.5v2.5M661.06 797.5v2.5M664.70 797.5v4.5" stroke="#111" stroke-width="1.2" fill="none"/>
<text x="73" y="505.6" text-anchor="end" font-size="10" font-family="Liberation Sans, sans-serif" fill="#222">40.0</text>
<text x="73" y="520.4" text-anchor="end" font-size="10" font-family="Liberation Sans, sans-serif" fill="#222">27.5</text>
<text x="73" y="535.1" text-anchor="end" font-size="10" font-family="Liberation Sans, sans-serif" fill="#222">15.0</text>
<text x="73" y="549.9" text-anchor="end" font-size="10" font-family="Liberation Sans, sans-serif" fill="#222">2.5</text>
<text x="73" y="564.7" text-anchor="end" font-size="10" font-family="Liberation Sans, sans-serif" fill="#222">-10.0</text>
<text x="73" y="579.5" text-anchor="end" font-size="10" font-family="Liberation Sans, sans-serif" fill="#222">-22.5</text>
<text x="73" y="594.2" text-anchor="end" font-size="10" font-family="Liberation Sans, sans-serif" fill="#222">-35.0</text>
<text x="73" y="609.0" text-anchor="end" font-size="10" font-family="Liberation Sans, sans-serif" fill="#222">-47.5</text>
<text x="73" y="623.8" text-anchor="end" font-size="10" font-family="Liberation Sans, sans-serif" fill="#222">-60.0</text>
<text x="73" y="638.6" text-anchor="end" font-size="10" font-family="Liberation Sans, sans-serif" fill="#222">-72.5</text>
<text x="73" y="653.4" text-anchor="end" font-size="10" font-family="Liberation Sans, sans-serif" fill="#222">-85.0</text>
<text x="73" y="668.1" text-anchor="end" font-size="10" font-family="Liberation Sans, sans-serif" fill="#222">-97.5</text>
<text x="73" y="682.9" text-anchor="end" font-size="10" font-family="Liberation Sans, sans-serif" fill="#222">-110.0</text>
<text x="73" y="697.7" text-anchor="end" font-size="10" font-family="Liberation Sans, sans-serif" fill="#222">-122.5</text>
<text x="73" y="712.5" text-anchor="end" font-size="10" font-family="Liberation Sans, sans-serif" fill="#222">-135.0</text>
<text x="73" y="727.2" text-anchor="end" font-size="10" font-family="Liberation Sans, sans-serif" fill="#222">-147.5</text>
<text x="73" y="742.0" text-anchor="end" font-size="10" font-family="Liberation Sans, sans-serif" fill="#222">-160.0</text>
<text x="73" y="756.8" text-anchor="end" font-size="10" font-family="Liberation Sans, sans-serif" fill="#222">-172.5</text>
<text x="73" y="771.6" text-anchor="end" font-size="10" font-family="Liberation Sans, sans-serif" fill="#222">-185.0</text>
<text x="73" y="786.3" text-anchor="end" font-size="10" font-family="Liberation Sans, sans-serif" fill="#222">-197.5</text>
<text x="73" y="801.1" text-anchor="end" font-size="10" font-family="Liberation Sans, sans-serif" fill="#222">-210.0</text>
<text x="73" y="552.9" text-anchor="end" font-size="10" font-family="Liberation Sans, sans-serif" fill="#222">0.0</text>
<text x="672.8" y="505.6" font-size="10" font-family="Liberation Sans, sans-serif" fill="#222">500.0</text>
<text x="672.8" y="520.4" font-size="10" font-family="Liberation Sans, sans-serif" fill="#222">452.5</text>
<text x="672.8" y="535.1" font-size="10" font-family="Liberation Sans, sans-serif" fill="#222">405.0</text>
<text x="672.8" y="549.9" font-size="10" font-family="Liberation Sans, sans-serif" fill="#222">357.5</text>
<text x="672.8" y="564.7" font-size="10" font-family="Liberation Sans, sans-serif" fill="#222">310.0</text>
<text x="672.8" y="579.5" font-size="10" font-family="Liberation Sans, sans-serif" fill="#222">262.5</text>
<text x="672.8" y="594.2" font-size="10" font-family="Liberation Sans, sans-serif" fill="#222">215.0</text>
<text x="672.8" y="609.0" font-size="10" font-family="Liberation Sans, sans-serif" fill="#222">167.5</text>
<text x="672.8" y="623.8" font-size="10" font-family="Liberation Sans, sans-serif" fill="#222">120.0</text>
<text x="672.8" y="638.6" font-size="10" font-family="Liberation Sans, sans-serif" fill="#222">72.5</text>
<text x="672.8" y="653.4" font-size="10" font-family="Liberation Sans, sans-serif" fill="#222">25.0</text>
<text x="672.8" y="668.1" font-size="10" font-family="Liberation Sans, sans-serif" fill="#222">-22.5</text>
<text x="672.8" y="682.9" font-size="10" font-family="Liberation Sans, sans-serif" fill="#222">-70.0</text>
<text x="672.8" y="697.7" font-size="10" font-family="Liberation Sans, sans-serif" fill="#222">-117.5</text>
<text x="672.8" y="712.5" font-size="10" font-family="Liberation Sans, sans-serif" fill="#222">-165.0</text>
<text x="672.8" y="727.2" font-size="10" font-family="Liberation Sans, sans-serif" fill="#222">-212.5</text>
<text x="672.8" y="742.0" font-size="10" font-family="Liberation Sans, sans-serif" fill="#222">-260.0</text>
<text x="672.8" y="756.8" font-size="10" font-family="Liberation Sans, sans-serif" fill="#222">-307.5</text>
<text x="672.8" y="771.6" font-size="10" font-family="Liberation Sans, sans-serif" fill="#222">-355.0</text>
<text x="672.8" y="786.3" font-size="10" font-family="Liberation Sans, sans-serif" fill="#222">-402.5</text>
<text x="672.8" y="801.1" font-size="10" font-family="Liberation Sans, sans-serif" fill="#222">-450.0</text>
<text x="676" y="661.1" font-size="10" font-family="Liberation Sans, sans-serif" fill="#222">0.0</text>
<text x="82.0" y="815.2" text-anchor="middle" font-size="10" font-family="Liberation Sans, sans-serif" fill="#222">0.0</text>
<text x="111.1" y="815.2" text-anchor="middle" font-size="10" font-family="Liberation Sans, sans-serif" fill="#222">0.15</text>
<text x="140.3" y="815.2" text-anchor="middle" font-size="10" font-family="Liberation Sans, sans-serif" fill="#222">0.3</text>
<text x="169.4" y="815.2" text-anchor="middle" font-size="10" font-family="Liberation Sans, sans-serif" fill="#222">0.45</text>
<text x="198.5" y="815.2" text-anchor="middle" font-size="10" font-family="Liberation Sans, sans-serif" fill="#222">0.6</text>
<text x="227.7" y="815.2" text-anchor="middle" font-size="10" font-family="Liberation Sans, sans-serif" fill="#222">0.75</text>
<text x="256.8" y="815.2" text-anchor="middle" font-size="10" font-family="Liberation Sans, sans-serif" fill="#222">0.9</text>
<text x="285.9" y="815.2" text-anchor="middle" font-size="10" font-family="Liberation Sans, sans-serif" fill="#222">1.05</text>
<text x="315.1" y="815.2" text-anchor="middle" font-size="10" font-family="Liberation Sans, sans-serif" fill="#222">1.2</text>
<text x="344.2" y="815.2" text-anchor="middle" font-size="10" font-family="Liberation Sans, sans-serif" fill="#222">1.35</text>
<text x="373.4" y="815.2" text-anchor="middle" font-size="10" font-family="Liberation Sans, sans-serif" fill="#222">1.5</text>
<text x="402.5" y="815.2" text-anchor="middle" font-size="10" font-family="Liberation Sans, sans-serif" fill="#222">1.65</text>
<text x="431.6" y="815.2" text-anchor="middle" font-size="10" font-family="Liberation Sans, sans-serif" fill="#222">1.8</text>
<text x="460.8" y="815.2" text-anchor="middle" font-size="10" font-family="Liberation Sans, sans-serif" fill="#222">1.95</text>
<text x="489.9" y="815.2" text-anchor="middle" font-size="10" font-family="Liberation Sans, sans-serif" fill="#222">2.1</text>
<text x="519.0" y="815.2" text-anchor="middle" font-size="10" font-family="Liberation Sans, sans-serif" fill="#222">2.25</text>
<text x="548.2" y="815.2" text-anchor="middle" font-size="10" font-family="Liberation Sans, sans-serif" fill="#222">2.4</text>
<text x="577.3" y="815.2" text-anchor="middle" font-size="10" font-family="Liberation Sans, sans-serif" fill="#222">2.55</text>
<text x="606.4" y="815.2" text-anchor="middle" font-size="10" font-family="Liberation Sans, sans-serif" fill="#222">2.7</text>
<text x="635.6" y="815.2" text-anchor="middle" font-size="10" font-family="Liberation Sans, sans-serif" fill="#222">2.85</text>
<text x="664.7" y="815.2" text-anchor="middle" font-size="10" font-family="Liberation Sans, sans-serif" fill="#222">3.0</text>
<text x="372" y="830" text-anchor="middle" font-size="10" font-family="Liberation Sans, sans-serif" fill="#222">Time (sec)</text>
<text transform="translate(30,650) rotate(-90)" text-anchor="middle" font-size="10.5" font-family="Liberation Sans, sans-serif" fill="#222">Length (mm)</text>
<text transform="translate(725.5,650) rotate(-90)" text-anchor="middle" font-size="10.5" font-family="Liberation Sans, sans-serif" fill="#222">Velocity (mm/sec)</text>
<rect x="125" y="504.3" width="103.5" height="55" rx="3" fill="#fefefd" stroke="#444" stroke-width="1"/>
<line x1="133.5" y1="513.7" x2="155.8" y2="513.7" stroke="#e8382a" stroke-width="1.5"/>
<text x="158" y="517.3" font-size="10" font-family="Liberation Sans, sans-serif" fill="#e8382a">JH21_180.S_t</text>
<line x1="133.5" y1="525.9" x2="154" y2="525.9" stroke="#2b2f80" stroke-width="1.5" stroke-dasharray="6.4 5.6"/>
<text x="158" y="529.5" font-size="10" font-family="Liberation Sans, sans-serif" fill="#2b2f80">JH21_180.V_t</text>
<line x1="133.5" y1="538.9" x2="154" y2="538.9" stroke="#e8307a" stroke-width="1.5" stroke-dasharray="3 2.2"/>
<text x="158" y="542.5" font-size="10" font-family="Liberation Sans, sans-serif" fill="#e8307a">JH24_180.S_t</text>
<line x1="133.5" y1="551" x2="154" y2="551" stroke="#15151c" stroke-width="1.5" stroke-dasharray="14 3 2 3"/>
<text x="158" y="554.6" font-size="10" font-family="Liberation Sans, sans-serif" fill="#15151c">JH24_180.V_t</text>
</svg>
<h2 class="cap" style="top:401.8px">行程<span style="letter-spacing:3px">、</span>速度时间曲线</h2>
<h2 class="cap" style="top:869.8px">行程<span style="letter-spacing:3px">、</span>速度时间曲线精密</h2>
</body></html>
